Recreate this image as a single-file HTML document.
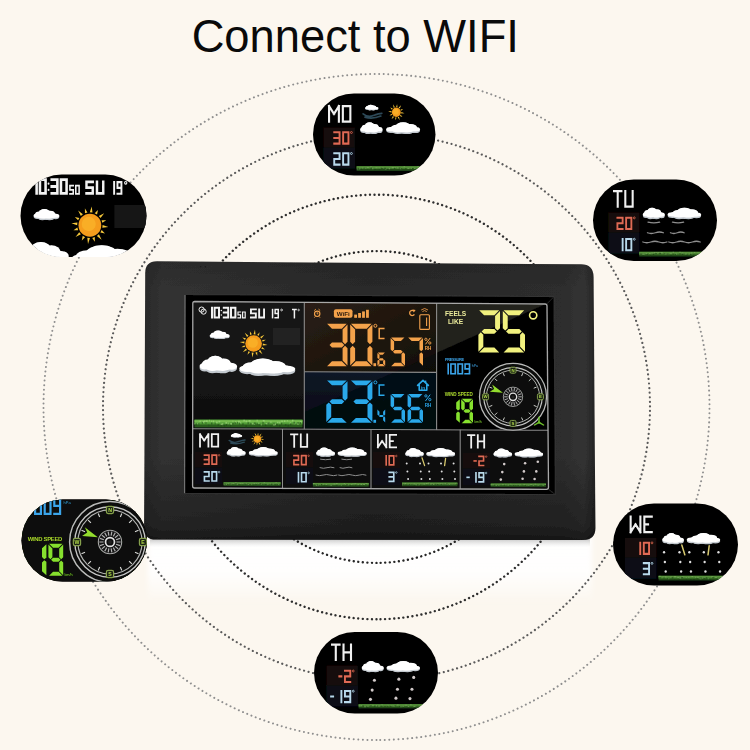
<!DOCTYPE html>
<html><head><meta charset="utf-8"><title>Connect to WIFI</title>
<style>html,body{margin:0;padding:0;background:#fcf7ef;}body{width:750px;height:750px;overflow:hidden;font-family:"Liberation Sans",sans-serif;}svg{display:block}</style>
</head><body>
<svg width="750" height="750" viewBox="0 0 750 750">
<defs>
<linearGradient id="bodyg" x1="0" y1="0" x2="1" y2="0">
 <stop offset="0" stop-color="#2a2a2a"/><stop offset="0.04" stop-color="#313131"/>
 <stop offset="0.5" stop-color="#292929"/><stop offset="0.93" stop-color="#2d2d2d"/>
 <stop offset="0.975" stop-color="#333333"/><stop offset="1" stop-color="#242424"/>
</linearGradient>
<linearGradient id="bodyv" x1="0" y1="0" x2="0" y2="1">
 <stop offset="0" stop-color="#000" stop-opacity="0.10"/><stop offset="0.1" stop-color="#000" stop-opacity="0"/>
 <stop offset="0.7" stop-color="#000" stop-opacity="0"/><stop offset="0.95" stop-color="#000" stop-opacity="0.28"/><stop offset="1" stop-color="#000" stop-opacity="0.5"/>
</linearGradient>
<linearGradient id="brown" x1="0" y1="0" x2="1" y2="1">
 <stop offset="0" stop-color="#2a1f15"/><stop offset="1" stop-color="#130e09"/>
</linearGradient>
<linearGradient id="maing" x1="0" y1="0" x2="0" y2="1">
 <stop offset="0" stop-color="#131313"/><stop offset="0.5" stop-color="#171717"/><stop offset="1" stop-color="#0c0c0c"/>
</linearGradient>
<linearGradient id="navy" x1="0" y1="0" x2="0" y2="1">
 <stop offset="0" stop-color="#0c1626"/><stop offset="1" stop-color="#050a12"/>
</linearGradient>
<linearGradient id="refl" x1="0" y1="0" x2="0" y2="1">
 <stop offset="0" stop-color="#fff" stop-opacity="1"/><stop offset="0.55" stop-color="#fff" stop-opacity="0.9"/><stop offset="1" stop-color="#fff" stop-opacity="0"/>
</linearGradient>
<linearGradient id="shad" x1="0" y1="0" x2="0" y2="1">
 <stop offset="0" stop-color="#8c8c8c" stop-opacity="0.55"/><stop offset="1" stop-color="#bbb" stop-opacity="0"/>
</linearGradient>
<filter id="blur2" x="-5%" y="-20%" width="110%" height="140%"><feGaussianBlur stdDeviation="2.5"/></filter>
<filter id="blur6" x="-20%" y="-50%" width="140%" height="200%"><feGaussianBlur stdDeviation="6"/></filter>
<filter id="blur3" x="-20%" y="-50%" width="140%" height="200%"><feGaussianBlur stdDeviation="3"/></filter>
<filter id="soft" x="0" y="0" width="750" height="750" filterUnits="userSpaceOnUse"><feGaussianBlur stdDeviation="0.45"/></filter>
<clipPath id="clipMain"><rect x="194" y="303" width="110" height="125.5"/></clipPath>
<clipPath id="clipRight"><rect x="438" y="304" width="108" height="125"/></clipPath>
<clipPath id="b1"><rect x="20.5" y="174.5" width="126" height="82.5" rx="41.25"/></clipPath>
<clipPath id="b2"><rect x="313" y="93.5" width="122.5" height="82" rx="41"/></clipPath>
<clipPath id="b3"><rect x="593" y="179.5" width="124" height="81.5" rx="40.75"/></clipPath>
<clipPath id="b4"><rect x="613" y="503.5" width="125" height="82" rx="41"/></clipPath>
<clipPath id="b5"><rect x="314" y="632" width="124" height="81.5" rx="40.75"/></clipPath>
<clipPath id="b6"><rect x="21.5" y="499.5" width="125.5" height="82" rx="41"/></clipPath>
</defs>
<rect width="750" height="750" fill="#fcf7ef"/>
<rect x="148" y="536" width="444" height="66" fill="url(#refl)" filter="url(#blur2)"/>
<rect x="150" y="538" width="440" height="9" fill="url(#shad)"/>
<circle cx="376.5" cy="407" r="333" fill="none" stroke="#8f8f8f" stroke-width="2" stroke-linecap="round" stroke-dasharray="0.01 4.5683" transform="rotate(90 376.5 407)"/>
<circle cx="376.5" cy="407" r="273.5" fill="none" stroke="#5a5a5a" stroke-width="2.2" stroke-linecap="round" stroke-dasharray="0.01 4.5725" transform="rotate(90 376.5 407)"/>
<circle cx="376.5" cy="407" r="212.3" fill="none" stroke="#2e2e2e" stroke-width="2.4" stroke-linecap="round" stroke-dasharray="0.01 4.5739" transform="rotate(90 376.5 407)"/>
<circle cx="376.5" cy="407" r="155.9" fill="none" stroke="#262626" stroke-width="2.4" stroke-linecap="round" stroke-dasharray="0.01 4.5673" transform="rotate(90 376.5 407)"/>
<text x="355.3" y="51.5" text-anchor="middle" font-family="'Liberation Sans', sans-serif" font-size="45.3" fill="#0a0a0a" id="title">Connect to WIFI</text>
<g filter="url(#soft)">
<path id="body" d="M157 261.3 L581 264.3 Q593.5 264.4 593.6 277 L595.4 528 Q595.4 540 583 540 L156 539.6 Q144 539.6 144.1 527.5 L145.2 273 Q145.3 261.2 157 261.3Z" fill="url(#bodyg)"/>
<path d="M157 261.3 L581 264.3 Q593.5 264.4 593.6 277 L595.4 528 Q595.4 540 583 540 L156 539.6 Q144 539.6 144.1 527.5 L145.2 273 Q145.3 261.2 157 261.3Z" fill="url(#bodyv)"/>
<path d="M185 294.5 L554 296.6 L555.4 494.6 L184.6 493.5Z" fill="#050505"/>
<path d="M185 294.5 L554 296.6 L555.4 494.6 L184.6 493.5Z" fill="none" stroke="#3a3a3a" stroke-width="0.8"/>
<path d="M185 295 L184.6 493.2" fill="none" stroke="#7a7a7a" stroke-width="1"/>
<path d="M554 296.6 L547.2 303.8 M555.4 494.6 L548.6 489.4" fill="none" stroke="#2e2e2e" stroke-width="0.8"/>
<circle cx="200.6" cy="266.8" r="0.7" fill="#1c1c1c"/><circle cx="205.4" cy="266.8" r="0.7" fill="#1c1c1c"/>
<g id="screen">
<path d="M192.8 301.5 L547 304 L548.5 489.3 L192.6 488Z" fill="#0b0b0b"/>
<rect x="193" y="302" width="111.5" height="127" fill="url(#maing)"/>
<path d="M304.2 302.3 L436.5 303.3 L436.5 372.4 L304.2 371.8Z" fill="url(#brown)"/>
<path d="M304.2 371.8 L436.5 372.4 L436.5 429.8 L304.2 429.2Z" fill="url(#navy)"/>
<path d="M436.5 303.3 L546.6 304 L436.5 352.9Z" fill="#20201b"/>
<path d="M436.5 352.9 L546.6 303.6 L547.8 430.4 L436.5 429.8Z" fill="#050505"/>
<path d="M436.5 352.9 L436.5 372.4 L394 372.2Z" fill="#0a0806" opacity="0.8"/>
<path d="M394 372.2 L436.5 372.4 L436.5 429.8 L304.3 429.2 L304.3 412.2Z" fill="#02050a" opacity="0.55"/>
<g id="mainpanel"><g transform="translate(0 306.8) scale(1 1) translate(0 -306.8)"><circle cx="201.6" cy="309.6" r="2.6" fill="none" stroke="#f2f2f2" stroke-width="1"/><circle cx="203.6" cy="311.6" r="2.6" fill="none" stroke="#f2f2f2" stroke-width="1"/><path d="M212 307.8L212 317.4" stroke="#f2f2f2" stroke-width="2" stroke-linecap="square"/><path d="M214.6 307.8L219 307.8M219 307.8L219 312.6M219 312.6L219 317.4M214.6 317.4L219 317.4M214.6 312.6L214.6 317.4M214.6 307.8L214.6 312.6" stroke="#f2f2f2" stroke-width="2" fill="none" stroke-linecap="square" /><circle cx="221.3" cy="310.6" r="0.75" fill="#f2f2f2"/><circle cx="221.3" cy="315" r="0.75" fill="#f2f2f2"/><path d="M223.8 307.8L228.2 307.8M228.2 307.8L228.2 312.6M223.8 312.6L228.2 312.6M228.2 312.6L228.2 317.4M223.8 317.4L228.2 317.4" stroke="#f2f2f2" stroke-width="2" fill="none" stroke-linecap="square" /><path d="M231 307.8L235.4 307.8M235.4 307.8L235.4 312.6M235.4 312.6L235.4 317.4M231 317.4L235.4 317.4M231 312.6L231 317.4M231 307.8L231 312.6" stroke="#f2f2f2" stroke-width="2" fill="none" stroke-linecap="square" /><path d="M238 312L240.6 312M238 312L238 314.9M238 314.9L240.6 314.9M240.6 314.9L240.6 317.8M238 317.8L240.6 317.8" stroke="#f2f2f2" stroke-width="1.2" fill="none" stroke-linecap="square" /><path d="M242.6 312L245.2 312M245.2 312L245.2 314.9M245.2 314.9L245.2 317.8M242.6 317.8L245.2 317.8M242.6 314.9L242.6 317.8M242.6 312L242.6 314.9" stroke="#f2f2f2" stroke-width="1.2" fill="none" stroke-linecap="square" /><path d="M250.95 309.35L255.85 309.35M250.95 309.35L250.95 313.4M250.95 313.4L255.85 313.4M255.85 313.4L255.85 317.45M250.95 317.45L255.85 317.45" stroke="#f2f2f2" stroke-width="1.9" fill="none" stroke-linecap="square" /><path d="M259.15 309.35L259.15 313.4M259.15 313.4L259.15 317.45M259.15 317.45L264.05 317.45M264.05 313.4L264.05 317.45M264.05 309.35L264.05 313.4" stroke="#f2f2f2" stroke-width="1.9" fill="none" stroke-linecap="square" /><path d="M272.55 309.55L272.55 317.65" stroke="#f2f2f2" stroke-width="1.5" stroke-linecap="square"/><path d="M275.15 309.55L278.25 309.55M278.25 309.55L278.25 313.6M275.15 309.55L275.15 313.6M275.15 313.6L278.25 313.6M278.25 313.6L278.25 317.65M275.15 317.65L278.25 317.65" stroke="#f2f2f2" stroke-width="1.5" fill="none" stroke-linecap="square" /><circle cx="281.6" cy="310" r="0.9" fill="none" stroke="#f2f2f2" stroke-width="0.8"/><path d="M292.75 309.55L296.05 309.55M294.4 309.55L294.4 313.6M294.4 313.6L294.4 317.65" stroke="#f2f2f2" stroke-width="1.5" fill="none" stroke-linecap="square" /><circle cx="298.6" cy="310" r="0.8" fill="none" stroke="#f2f2f2" stroke-width="0.7"/></g><rect x="273" y="327.6" width="27" height="17.6" fill="#222222"/><g><ellipse cx="219.7" cy="336.16" rx="8.8" ry="2.72" fill="#c3c9cf"/><ellipse cx="218.1" cy="333.95" rx="4.4" ry="3.4" fill="#c3c9cf"/><ellipse cx="222.5" cy="334.8" rx="3.8" ry="2.81" fill="#c3c9cf"/><ellipse cx="214.1" cy="335.23" rx="3.2" ry="2.55" fill="#c3c9cf"/><ellipse cx="212.5" cy="336.33" rx="2.8" ry="1.87" fill="#c3c9cf"/><ellipse cx="226.9" cy="336.5" rx="2.8" ry="1.87" fill="#c3c9cf"/><ellipse cx="216.5" cy="337.35" rx="3.2" ry="1.7" fill="#c3c9cf"/><ellipse cx="222.1" cy="337.52" rx="3.6" ry="1.53" fill="#c3c9cf"/><ellipse cx="219.7" cy="335.37" rx="8.8" ry="2.34" fill="#ffffff"/><ellipse cx="218.1" cy="333.47" rx="4.4" ry="2.92" fill="#ffffff"/><ellipse cx="222.5" cy="334.2" rx="3.8" ry="2.41" fill="#ffffff"/><ellipse cx="214.1" cy="334.57" rx="3.2" ry="2.19" fill="#ffffff"/><ellipse cx="212.5" cy="335.52" rx="2.8" ry="1.61" fill="#ffffff"/><ellipse cx="226.9" cy="335.67" rx="2.8" ry="1.61" fill="#ffffff"/><ellipse cx="216.5" cy="336.4" rx="3.2" ry="1.46" fill="#ffffff"/><ellipse cx="222.1" cy="336.54" rx="3.6" ry="1.32" fill="#ffffff"/></g><g><path d="M262.9 343.45L267.53 344.9L262.7 345.39ZM262.21 347.01L264.93 349.58L261.28 348.73ZM260.21 350.04L262.46 354.34L258.7 351.27ZM257.2 352.07L257.31 355.81L255.33 352.63ZM253.65 352.8L252.2 357.43L251.71 352.6ZM250.09 352.11L247.52 354.83L248.37 351.18ZM247.06 350.11L242.76 352.36L245.83 348.6ZM245.03 347.1L241.29 347.21L244.47 345.23ZM244.3 343.55L239.67 342.1L244.5 341.61ZM244.99 339.99L242.27 337.42L245.92 338.27ZM246.99 336.96L244.74 332.66L248.5 335.73ZM250 334.93L249.89 331.19L251.87 334.37ZM253.55 334.2L255 329.57L255.49 334.4ZM257.11 334.89L259.68 332.17L258.83 335.82ZM260.14 336.89L264.44 334.64L261.37 338.4ZM262.17 339.9L265.91 339.79L262.73 341.77Z" fill="#f3c63a"/><circle cx="253.6" cy="343.5" r="8.3" fill="#f59c1c"/><circle cx="252.77" cy="342.67" r="5.15" fill="#f9b42c" opacity="0.75"/></g><g><ellipse cx="218.3" cy="367.4" rx="16.5" ry="5.6" fill="#c3c9cf"/><ellipse cx="215.3" cy="362.85" rx="8.25" ry="7" fill="#c3c9cf"/><ellipse cx="223.55" cy="364.6" rx="7.12" ry="5.78" fill="#c3c9cf"/><ellipse cx="207.8" cy="365.48" rx="6" ry="5.25" fill="#c3c9cf"/><ellipse cx="204.8" cy="367.75" rx="5.25" ry="3.85" fill="#c3c9cf"/><ellipse cx="231.8" cy="368.1" rx="5.25" ry="3.85" fill="#c3c9cf"/><ellipse cx="212.3" cy="369.85" rx="6" ry="3.5" fill="#c3c9cf"/><ellipse cx="222.8" cy="370.2" rx="6.75" ry="3.15" fill="#c3c9cf"/><ellipse cx="218.3" cy="365.78" rx="16.5" ry="4.82" fill="#ffffff"/><ellipse cx="215.3" cy="361.87" rx="8.25" ry="6.02" fill="#ffffff"/><ellipse cx="223.55" cy="363.38" rx="7.12" ry="4.97" fill="#ffffff"/><ellipse cx="207.8" cy="364.13" rx="6" ry="4.51" fill="#ffffff"/><ellipse cx="204.8" cy="366.08" rx="5.25" ry="3.31" fill="#ffffff"/><ellipse cx="231.8" cy="366.39" rx="5.25" ry="3.31" fill="#ffffff"/><ellipse cx="212.3" cy="367.89" rx="6" ry="3.01" fill="#ffffff"/><ellipse cx="222.8" cy="368.19" rx="6.75" ry="2.71" fill="#ffffff"/></g><g><ellipse cx="267.3" cy="370" rx="24.64" ry="5.6" fill="#c3c9cf"/><ellipse cx="262.82" cy="365.45" rx="12.32" ry="7" fill="#c3c9cf"/><ellipse cx="275.14" cy="367.2" rx="10.64" ry="5.78" fill="#c3c9cf"/><ellipse cx="251.62" cy="368.07" rx="8.96" ry="5.25" fill="#c3c9cf"/><ellipse cx="247.14" cy="370.35" rx="7.84" ry="3.85" fill="#c3c9cf"/><ellipse cx="287.46" cy="370.7" rx="7.84" ry="3.85" fill="#c3c9cf"/><ellipse cx="258.34" cy="372.45" rx="8.96" ry="3.5" fill="#c3c9cf"/><ellipse cx="274.02" cy="372.8" rx="10.08" ry="3.15" fill="#c3c9cf"/><ellipse cx="267.3" cy="368.38" rx="24.64" ry="4.82" fill="#ffffff"/><ellipse cx="262.82" cy="364.47" rx="12.32" ry="6.02" fill="#ffffff"/><ellipse cx="275.14" cy="365.97" rx="10.64" ry="4.97" fill="#ffffff"/><ellipse cx="251.62" cy="366.73" rx="8.96" ry="4.51" fill="#ffffff"/><ellipse cx="247.14" cy="368.68" rx="7.84" ry="3.31" fill="#ffffff"/><ellipse cx="287.46" cy="368.99" rx="7.84" ry="3.31" fill="#ffffff"/><ellipse cx="258.34" cy="370.49" rx="8.96" ry="3.01" fill="#ffffff"/><ellipse cx="274.02" cy="370.79" rx="10.08" ry="2.71" fill="#ffffff"/></g><g opacity="1"><rect x="194.5" y="419.6" width="108" height="7.8" fill="#2b5c1e"/><rect x="194.5" y="419.6" width="108" height="4.84" fill="#4f9a36"/><rect x="194.5" y="420.22" width="108" height="2.18" fill="#74bb4e"/><path d="M194.5 422.79h1.08v1.72h-1.08zM197.38 422.65h1.24v1.72h-1.24zM199.56 420.39h1.05v1.72h-1.05zM202.27 421.05h1.76v1.72h-1.76zM203.95 420.38h1.35v1.72h-1.35zM205.77 420.28h1.93v1.72h-1.93zM209.12 419.83h0.82v1.72h-0.82zM210.97 420.48h0.82v1.72h-0.82zM212.65 420.49h1.52v1.72h-1.52zM215.84 421.45h1.94v1.72h-1.94zM218.53 420.85h1.66v1.72h-1.66zM220.66 423.58h1.91v1.72h-1.91zM222.28 422.97h0.99v1.72h-0.99zM225.35 422.09h1.79v1.72h-1.79zM227.77 422.54h0.97v1.72h-0.97zM230.19 423.11h1.87v1.72h-1.87zM232.52 420.55h0.81v1.72h-0.81zM234.95 421.28h1.53v1.72h-1.53zM237.99 420.66h1.93v1.72h-1.93zM239.97 421.73h1.34v1.72h-1.34zM243.29 419.83h1.64v1.72h-1.64zM245.51 420.42h1.7v1.72h-1.7zM248.58 419.95h1.96v1.72h-1.96zM251.38 422.67h1.83v1.72h-1.83zM253.78 423.25h1.27v1.72h-1.27zM256.61 419.76h1.11v1.72h-1.11zM258.36 422.22h0.99v1.72h-0.99zM260.86 423.81h0.89v1.72h-0.89zM262.79 419.93h1.83v1.72h-1.83zM265.65 422.9h1.63v1.72h-1.63zM267.69 422.04h1.57v1.72h-1.57zM270.38 421.32h1.13v1.72h-1.13zM273.01 423.76h1.98v1.72h-1.98zM274.85 423.57h1.17v1.72h-1.17zM276.88 421.63h1.73v1.72h-1.73zM279.07 421.67h1.41v1.72h-1.41zM281.37 420.43h1.43v1.72h-1.43zM284.02 420.34h1.35v1.72h-1.35zM286.9 419.9h0.88v1.72h-0.88zM289.66 422.2h1.51v1.72h-1.51zM291.97 419.86h1.55v1.72h-1.55zM293.63 422.49h1.72v1.72h-1.72zM297.01 422.93h1.93v1.72h-1.93zM299.93 421.09h1.96v1.72h-1.96z" fill="#a9dc86" opacity="0.55"/><path d="M195.2 423.47h1.55v1.95h-1.55zM198.23 422.89h1.09v1.95h-1.09zM201.75 421.74h1.26v1.95h-1.26zM205.54 421.97h0.89v1.95h-0.89zM208.36 424.56h0.85v1.95h-0.85zM211.02 422.46h1.46v1.95h-1.46zM214.65 422.64h0.98v1.95h-0.98zM217.65 424.1h1.2v1.95h-1.2zM220.52 424.9h1.68v1.95h-1.68zM223.63 424.72h1.66v1.95h-1.66zM226.02 424.05h1.03v1.95h-1.03zM230.01 424.82h0.91v1.95h-0.91zM232.25 422.63h1.54v1.95h-1.54zM234.58 422.04h1.24v1.95h-1.24zM236.9 421.91h0.94v1.95h-0.94zM239.15 422.75h1.01v1.95h-1.01zM242.25 423.23h1.42v1.95h-1.42zM245.26 425.26h1.77v1.95h-1.77zM247.54 422.32h1.31v1.95h-1.31zM250.38 423.11h1.22v1.95h-1.22zM254 422.54h1.76v1.95h-1.76zM256.59 423.13h1.18v1.95h-1.18zM258.73 424.09h0.91v1.95h-0.91zM262.37 421.7h1.27v1.95h-1.27zM265.08 424.24h1.43v1.95h-1.43zM267.69 422.36h1.69v1.95h-1.69zM270.37 425.13h1.09v1.95h-1.09zM273.45 422.79h1.07v1.95h-1.07zM276.07 423.65h1.67v1.95h-1.67zM278.93 424.76h1.7v1.95h-1.7zM281.03 422.76h1.21v1.95h-1.21zM284.87 424.03h1.62v1.95h-1.62zM287.3 424.8h1.79v1.95h-1.79zM289.97 423.36h1.46v1.95h-1.46zM293.44 421.77h1.57v1.95h-1.57zM297.4 422.24h1.4v1.95h-1.4zM299.72 422.01h1.32v1.95h-1.32z" fill="#1f4a16" opacity="0.6"/></g></g>
<g id="midtop"><path d="M327.08 323.8 L346.72 323.8 L341.82 328.7 L331.98 328.7ZM347.5 324.58 L342.6 329.48 L342.6 341.77 L345.05 344.22 L347.5 341.77ZM329.53 345 L331.98 342.55 L341.82 342.55 L344.27 345 L341.82 347.45 L331.98 347.45ZM347.5 365.42 L342.6 360.52 L342.6 348.23 L345.05 345.78 L347.5 348.23ZM327.08 366.2 L346.72 366.2 L341.82 361.3 L331.98 361.3Z" fill="#f4a24c" /><path d="M350.98 323.8 L371.62 323.8 L366.72 328.7 L355.88 328.7ZM372.4 324.58 L367.5 329.48 L367.5 341.77 L369.95 344.22 L372.4 341.77ZM372.4 365.42 L367.5 360.52 L367.5 348.23 L369.95 345.78 L372.4 348.23ZM350.98 366.2 L371.62 366.2 L366.72 361.3 L355.88 361.3ZM350.2 365.42 L355.1 360.52 L355.1 348.23 L352.65 345.78 L350.2 348.23ZM350.2 324.58 L355.1 329.48 L355.1 341.77 L352.65 344.22 L350.2 341.77Z" fill="#f4a24c" /><rect x="373.4" y="363.2" width="2.7" height="3.0" fill="#f4a24c"/><path d="M377.74 352.6 L384.86 352.6 L382.76 354.7 L379.84 354.7ZM377.4 352.94 L379.5 355.04 L379.5 358.01 L378.45 359.06 L377.4 358.01ZM378.79 359.4 L379.84 358.35 L382.76 358.35 L383.81 359.4 L382.76 360.45 L379.84 360.45ZM377.4 365.86 L379.5 363.76 L379.5 360.79 L378.45 359.74 L377.4 360.79ZM377.74 366.2 L384.86 366.2 L382.76 364.1 L379.84 364.1ZM385.2 365.86 L383.1 363.76 L383.1 360.79 L384.15 359.74 L385.2 360.79Z" fill="#f4a24c" /><circle cx="375.4" cy="325.8" r="1.5" fill="none" stroke="#f4a24c" stroke-width="1"/><path d="M379.2 328.4L383.8 328.4M379.2 328.4L379.2 333.5M379.2 333.5L379.2 338.6M379.2 338.6L383.8 338.6" stroke="#f4a24c" stroke-width="1.5" fill="none" stroke-linecap="square" /><path d="M391.16 337.4 L404.44 337.4 L400.94 340.9 L394.66 340.9ZM390.6 337.96 L394.1 341.46 L394.1 349.49 L392.35 351.24 L390.6 349.49ZM392.91 351.8 L394.66 350.05 L400.94 350.05 L402.69 351.8 L400.94 353.55 L394.66 353.55ZM405 365.64 L401.5 362.14 L401.5 354.11 L403.25 352.36 L405 354.11ZM391.16 366.2 L404.44 366.2 L400.94 362.7 L394.66 362.7Z" fill="#f4a24c" /><path d="M408.16 337.4 L422.44 337.4 L418.94 340.9 L411.66 340.9ZM423 337.96 L419.5 341.46 L419.5 349.49 L421.25 351.24 L423 349.49ZM423 365.64 L419.5 362.14 L419.5 354.11 L421.25 352.36 L423 354.11Z" fill="#f4a24c" /><circle cx="425.9" cy="339.3" r="1.15" fill="none" stroke="#f4a24c" stroke-width="0.9"/><circle cx="429.8" cy="343" r="1.15" fill="none" stroke="#f4a24c" stroke-width="0.9"/><line x1="430.2" y1="338" x2="425.5" y2="344.3" stroke="#f4a24c" stroke-width="1"/><text x="424.8" y="350.2" font-family="'Liberation Sans',sans-serif" font-weight="bold" font-size="4.5" fill="#f4a24c" textLength="6.6" lengthAdjust="spacingAndGlyphs">RH</text></g>
<g id="midbot"><path d="M327.08 380.4 L346.72 380.4 L341.82 385.3 L331.98 385.3ZM347.5 381.18 L342.6 386.08 L342.6 398.37 L345.05 400.82 L347.5 398.37ZM329.53 401.6 L331.98 399.15 L341.82 399.15 L344.27 401.6 L341.82 404.05 L331.98 404.05ZM326.3 422.02 L331.2 417.12 L331.2 404.83 L328.75 402.38 L326.3 404.83ZM327.08 422.8 L346.72 422.8 L341.82 417.9 L331.98 417.9Z" fill="#29a9ea" /><path d="M350.98 380.4 L371.62 380.4 L366.72 385.3 L355.88 385.3ZM372.4 381.18 L367.5 386.08 L367.5 398.37 L369.95 400.82 L372.4 398.37ZM353.43 401.6 L355.88 399.15 L366.72 399.15 L369.17 401.6 L366.72 404.05 L355.88 404.05ZM372.4 422.02 L367.5 417.12 L367.5 404.83 L369.95 402.38 L372.4 404.83ZM350.98 422.8 L371.62 422.8 L366.72 417.9 L355.88 417.9Z" fill="#29a9ea" /><rect x="373.4" y="419.8" width="2.7" height="3.0" fill="#29a9ea"/><path d="M377.4 409.54 L379.5 411.64 L379.5 414.61 L378.45 415.66 L377.4 414.61ZM378.79 416 L379.84 414.95 L382.76 414.95 L383.81 416 L382.76 417.05 L379.84 417.05ZM385.2 409.54 L383.1 411.64 L383.1 414.61 L384.15 415.66 L385.2 414.61ZM385.2 422.46 L383.1 420.36 L383.1 417.39 L384.15 416.34 L385.2 417.39Z" fill="#29a9ea" /><circle cx="375.4" cy="382.4" r="1.5" fill="none" stroke="#29a9ea" stroke-width="1"/><path d="M379.2 385L383.8 385M379.2 385L379.2 390.1M379.2 390.1L379.2 395.2M379.2 395.2L383.8 395.2" stroke="#29a9ea" stroke-width="1.5" fill="none" stroke-linecap="square" /><path d="M391.16 394 L404.44 394 L400.94 397.5 L394.66 397.5ZM390.6 394.56 L394.1 398.06 L394.1 406.09 L392.35 407.84 L390.6 406.09ZM392.91 408.4 L394.66 406.65 L400.94 406.65 L402.69 408.4 L400.94 410.15 L394.66 410.15ZM405 422.24 L401.5 418.74 L401.5 410.71 L403.25 408.96 L405 410.71ZM391.16 422.8 L404.44 422.8 L400.94 419.3 L394.66 419.3Z" fill="#29a9ea" /><path d="M408.16 394 L422.44 394 L418.94 397.5 L411.66 397.5ZM407.6 394.56 L411.1 398.06 L411.1 406.09 L409.35 407.84 L407.6 406.09ZM409.91 408.4 L411.66 406.65 L418.94 406.65 L420.69 408.4 L418.94 410.15 L411.66 410.15ZM407.6 422.24 L411.1 418.74 L411.1 410.71 L409.35 408.96 L407.6 410.71ZM408.16 422.8 L422.44 422.8 L418.94 419.3 L411.66 419.3ZM423 422.24 L419.5 418.74 L419.5 410.71 L421.25 408.96 L423 410.71Z" fill="#29a9ea" /><circle cx="425.9" cy="395.9" r="1.15" fill="none" stroke="#29a9ea" stroke-width="0.9"/><circle cx="429.8" cy="399.6" r="1.15" fill="none" stroke="#29a9ea" stroke-width="0.9"/><line x1="430.2" y1="394.6" x2="425.5" y2="400.9" stroke="#29a9ea" stroke-width="1"/><text x="424.8" y="406.8" font-family="'Liberation Sans',sans-serif" font-weight="bold" font-size="4.5" fill="#29a9ea" textLength="6.6" lengthAdjust="spacingAndGlyphs">RH</text></g>
<g id="midicons"><circle cx="317.2" cy="313.8" r="2.7" fill="none" stroke="#f4a24c" stroke-width="1.1"/><path d="M314.2 310.6 l1.6 -1.4 M320.2 310.6 l-1.6 -1.4 M317.2 312.2 v1.7 h1.2 M315.2 316.6 l-0.8 1 M319.2 316.6 l0.8 1" stroke="#f4a24c" stroke-width="0.9" fill="none"/><rect x="333.9" y="309.3" width="18.6" height="8.5" rx="2" fill="#f4a24c"/><text x="343.2" y="316.0" text-anchor="middle" font-family="'Liberation Sans',sans-serif" font-weight="bold" font-size="6.2" fill="#2a1a0c">WiFi</text><rect x="354.2" y="314.6" width="2.8" height="3.2" fill="#f4a24c"/><rect x="358.15" y="313" width="2.8" height="4.8" fill="#f4a24c"/><rect x="362.1" y="311.4" width="2.8" height="6.4" fill="#f4a24c"/><rect x="366.05" y="309.8" width="2.8" height="8" fill="#f4a24c"/><path d="M414.2 311.2 A2.6 2.6 0 1 0 414.4 314.4" fill="none" stroke="#f4a24c" stroke-width="1.2"/><path d="M412.6 309.4 l3 0.6 l-1.8 2.4z" fill="#f4a24c"/><rect x="419.8" y="314.8" width="9.6" height="14.6" rx="1" fill="none" stroke="#f4a24c" stroke-width="1.1"/><line x1="426.6" y1="317.5" x2="426.6" y2="326" stroke="#f4a24c" stroke-width="1.1"/><path d="M422.4 311.6 q2.2 -2 4.4 0 M421.2 310 q3.4 -3 6.8 0" fill="none" stroke="#f4a24c" stroke-width="0.8"/><path d="M417.6 385.4 l5.4 -5 l5.4 5 M419.2 384.6 v5.6 h7.6 v-5.6" fill="none" stroke="#29a9ea" stroke-width="1.6" stroke-linejoin="round" stroke-linecap="round"/><path d="M425.6 380.6 v2.6" stroke="#29a9ea" stroke-width="1.4"/><text x="423" y="389.6" text-anchor="middle" font-family="'Liberation Sans',sans-serif" font-weight="bold" font-size="4.6" fill="#29a9ea">in</text></g>
<g id="rightpanel"><text x="455.6" y="316.2" text-anchor="middle" font-family="'Liberation Sans',sans-serif" font-weight="bold" font-size="6.6" fill="#ecec9c">FEELS</text><text x="455.6" y="324" text-anchor="middle" font-family="'Liberation Sans',sans-serif" font-weight="bold" font-size="6.6" fill="#ecec9c">LIKE</text><path d="M479.18 310.3 L499.22 310.3 L494.32 315.2 L484.08 315.2ZM500 311.08 L495.1 315.98 L495.1 328.17 L497.55 330.62 L500 328.17ZM481.63 331.4 L484.08 328.95 L494.32 328.95 L496.77 331.4 L494.32 333.85 L484.08 333.85ZM478.4 351.72 L483.3 346.82 L483.3 334.63 L480.85 332.18 L478.4 334.63ZM479.18 352.5 L499.22 352.5 L494.32 347.6 L484.08 347.6Z" fill="#f1f17e" /><path d="M503.58 310.3 L524.22 310.3 L519.32 315.2 L508.48 315.2ZM502.8 311.08 L507.7 315.98 L507.7 328.17 L505.25 330.62 L502.8 328.17ZM506.03 331.4 L508.48 328.95 L519.32 328.95 L521.77 331.4 L519.32 333.85 L508.48 333.85ZM525 351.72 L520.1 346.82 L520.1 334.63 L522.55 332.18 L525 334.63ZM503.58 352.5 L524.22 352.5 L519.32 347.6 L508.48 347.6Z" fill="#f1f17e" /><circle cx="533.2" cy="315.3" r="3.6" fill="none" stroke="#f1f17e" stroke-width="1.6"/><text x="445" y="360.6" font-family="'Liberation Sans',sans-serif" font-weight="bold" font-size="3.9" fill="#3ba4ea" textLength="19">PRESSURE</text><path d="M448.2 364L448.2 373.8" stroke="#3ba4ea" stroke-width="1.6" stroke-linecap="square"/><path d="M450.9 364L455.3 364M455.3 364L455.3 368.9M455.3 368.9L455.3 373.8M450.9 373.8L455.3 373.8M450.9 368.9L450.9 373.8M450.9 364L450.9 368.9" stroke="#3ba4ea" stroke-width="1.6" fill="none" stroke-linecap="square" /><path d="M458 364L462.4 364M462.4 364L462.4 368.9M462.4 368.9L462.4 373.8M458 373.8L462.4 373.8M458 368.9L458 373.8M458 364L458 368.9" stroke="#3ba4ea" stroke-width="1.6" fill="none" stroke-linecap="square" /><path d="M465.1 364L469.5 364M469.5 364L469.5 368.9M465.1 364L465.1 368.9M465.1 368.9L469.5 368.9M469.5 368.9L469.5 373.8M465.1 373.8L469.5 373.8" stroke="#3ba4ea" stroke-width="1.6" fill="none" stroke-linecap="square" /><text x="471.8" y="366.6" font-family="'Liberation Sans',sans-serif" font-size="3.4" fill="#3ba4ea">hPa</text><text x="444.8" y="396.2" font-family="'Liberation Sans',sans-serif" font-weight="bold" font-size="4.6" fill="#a9d62c" textLength="28">WIND SPEED</text><path d="M459.8 399.23 L459.8 409.31 L458 410.57 L456.2 408.77 L456.2 402.47ZM459.8 422.77 L459.8 412.69 L458 411.43 L456.2 413.23 L456.2 419.53Z" fill="#86e02e"/><path d="M461.76 398.8 L472.44 398.8 L468.94 402.3 L465.26 402.3ZM473 399.36 L469.5 402.86 L469.5 408.69 L471.25 410.44 L473 408.69ZM461.2 399.36 L464.7 402.86 L464.7 408.69 L462.95 410.44 L461.2 408.69ZM463.51 411 L465.26 409.25 L468.94 409.25 L470.69 411 L468.94 412.75 L465.26 412.75ZM473 422.64 L469.5 419.14 L469.5 413.31 L471.25 411.56 L473 413.31ZM461.76 423.2 L472.44 423.2 L468.94 419.7 L465.26 419.7Z" fill="#86e02e" /><text x="474.4" y="423.4" font-family="'Liberation Sans',sans-serif" font-size="3.4" fill="#86e02e">km/h</text><g><circle cx="513" cy="396.8" r="34" fill="#0a0c08"/><circle cx="513" cy="396.8" r="33.5" fill="none" stroke="#b9b9b9" stroke-width="1.25"/><circle cx="513" cy="396.8" r="29.2" fill="none" stroke="#c4c4c4" stroke-width="1.15"/><circle cx="513" cy="396.8" r="26.6" fill="none" stroke="#b0b0b0" stroke-width="1"/><line x1="536.65" y1="406.6" x2="533.69" y2="405.37" stroke="#d8d8d8" stroke-width="0.95"/><line x1="531.1" y1="414.9" x2="528.84" y2="412.64" stroke="#d8d8d8" stroke-width="0.95"/><line x1="522.8" y1="420.45" x2="521.57" y2="417.49" stroke="#d8d8d8" stroke-width="0.95"/><line x1="503.2" y1="420.45" x2="504.43" y2="417.49" stroke="#d8d8d8" stroke-width="0.95"/><line x1="494.9" y1="414.9" x2="497.16" y2="412.64" stroke="#d8d8d8" stroke-width="0.95"/><line x1="489.35" y1="406.6" x2="492.31" y2="405.37" stroke="#d8d8d8" stroke-width="0.95"/><line x1="489.35" y1="387" x2="492.31" y2="388.23" stroke="#d8d8d8" stroke-width="0.95"/><line x1="494.9" y1="378.7" x2="497.16" y2="380.96" stroke="#d8d8d8" stroke-width="0.95"/><line x1="503.2" y1="373.15" x2="504.43" y2="376.11" stroke="#d8d8d8" stroke-width="0.95"/><line x1="522.8" y1="373.15" x2="521.57" y2="376.11" stroke="#d8d8d8" stroke-width="0.95"/><line x1="531.1" y1="378.7" x2="528.84" y2="380.96" stroke="#d8d8d8" stroke-width="0.95"/><line x1="536.65" y1="387" x2="533.69" y2="388.23" stroke="#d8d8d8" stroke-width="0.95"/><rect x="510" y="367.2" width="6" height="6" rx="1.4" fill="#1b2414" stroke="#86a04e" stroke-width="1"/><text x="513" y="371.75" text-anchor="middle" font-family="'Liberation Sans',sans-serif" font-weight="bold" font-size="4.3" fill="#b3dc4a">N</text><rect x="537.4" y="393.8" width="6" height="6" rx="1.4" fill="#1b2414" stroke="#86a04e" stroke-width="1"/><text x="540.4" y="398.35" text-anchor="middle" font-family="'Liberation Sans',sans-serif" font-weight="bold" font-size="4.3" fill="#b3dc4a">E</text><rect x="510" y="420.4" width="6" height="6" rx="1.4" fill="#1b2414" stroke="#86a04e" stroke-width="1"/><text x="513" y="424.95" text-anchor="middle" font-family="'Liberation Sans',sans-serif" font-weight="bold" font-size="4.3" fill="#b3dc4a">S</text><rect x="482.6" y="393.8" width="6" height="6" rx="1.4" fill="#1b2414" stroke="#86a04e" stroke-width="1"/><text x="485.6" y="398.35" text-anchor="middle" font-family="'Liberation Sans',sans-serif" font-weight="bold" font-size="4.3" fill="#b3dc4a">W</text><circle cx="513" cy="396.8" r="9.7" fill="#161616" stroke="#a9a9a9" stroke-width="0.9"/><line x1="518.4" y1="396.8" x2="521.8" y2="396.8" stroke="#b4b4b4" stroke-width="0.95"/><line x1="518.07" y1="398.65" x2="521.27" y2="399.81" stroke="#b4b4b4" stroke-width="0.95"/><line x1="517.14" y1="400.27" x2="519.74" y2="402.46" stroke="#b4b4b4" stroke-width="0.95"/><line x1="515.7" y1="401.48" x2="517.4" y2="404.42" stroke="#b4b4b4" stroke-width="0.95"/><line x1="513.94" y1="402.12" x2="514.53" y2="405.47" stroke="#b4b4b4" stroke-width="0.95"/><line x1="512.06" y1="402.12" x2="511.47" y2="405.47" stroke="#b4b4b4" stroke-width="0.95"/><line x1="510.3" y1="401.48" x2="508.6" y2="404.42" stroke="#b4b4b4" stroke-width="0.95"/><line x1="508.86" y1="400.27" x2="506.26" y2="402.46" stroke="#b4b4b4" stroke-width="0.95"/><line x1="507.93" y1="398.65" x2="504.73" y2="399.81" stroke="#b4b4b4" stroke-width="0.95"/><line x1="507.6" y1="396.8" x2="504.2" y2="396.8" stroke="#b4b4b4" stroke-width="0.95"/><line x1="507.93" y1="394.95" x2="504.73" y2="393.79" stroke="#b4b4b4" stroke-width="0.95"/><line x1="508.86" y1="393.33" x2="506.26" y2="391.14" stroke="#b4b4b4" stroke-width="0.95"/><line x1="510.3" y1="392.12" x2="508.6" y2="389.18" stroke="#b4b4b4" stroke-width="0.95"/><line x1="512.06" y1="391.48" x2="511.47" y2="388.13" stroke="#b4b4b4" stroke-width="0.95"/><line x1="513.94" y1="391.48" x2="514.53" y2="388.13" stroke="#b4b4b4" stroke-width="0.95"/><line x1="515.7" y1="392.12" x2="517.4" y2="389.18" stroke="#b4b4b4" stroke-width="0.95"/><line x1="517.14" y1="393.33" x2="519.74" y2="391.14" stroke="#b4b4b4" stroke-width="0.95"/><line x1="518.07" y1="394.95" x2="521.27" y2="393.79" stroke="#b4b4b4" stroke-width="0.95"/><circle cx="513" cy="396.8" r="3.7" fill="#0c0c0c" stroke="#e0e0e0" stroke-width="1.4"/><circle cx="513" cy="396.8" r="1.6" fill="#222"/><path d="M502.9 392.8 L492.1 384.5 L494.1 389 L489.8 391.8Z" fill="#93dc2e"/></g><line x1="539" y1="422.4" x2="539" y2="417.2" stroke="#6fc42a" stroke-width="1.4" stroke-linecap="round"/><line x1="539" y1="422.4" x2="543.5" y2="425" stroke="#6fc42a" stroke-width="1.4" stroke-linecap="round"/><line x1="539" y1="422.4" x2="534.5" y2="425" stroke="#6fc42a" stroke-width="1.4" stroke-linecap="round"/><circle cx="539" cy="422.4" r="1.2" fill="#6fc42a"/></g>
<g id="fcMO"><rect x="195.1" y="451.3" width="27" height="16" fill="#130a08"/><rect x="195.1" y="467.3" width="27" height="17" fill="#080d16"/><path d="M200 434.2L200 440.4M200 440.4L200 446.6M208.4 434.2L208.4 440.4M208.4 440.4L208.4 446.6M200 434.2L204.2 440.4M208.4 434.2L204.2 440.4" stroke="#f0f0f0" stroke-width="1.8" fill="none" stroke-linecap="square" /><path d="M211.8 434.2L218.2 434.2M218.2 434.2L218.2 440.4M218.2 440.4L218.2 446.6M211.8 446.6L218.2 446.6M211.8 440.4L211.8 446.6M211.8 434.2L211.8 440.4" stroke="#f0f0f0" stroke-width="1.8" fill="none" stroke-linecap="square" /><circle cx="219.1" cy="455.3" r="0.8" fill="none" stroke="#e06a54" stroke-width="0.7"/><path d="M212.03 455.12L216.58 455.12M216.58 455.12L216.58 459.65M216.58 459.65L216.58 464.18M212.03 464.18L216.58 464.18M212.03 459.65L212.03 464.18M212.03 455.12L212.03 459.65" stroke="#e06a54" stroke-width="1.65" fill="none" stroke-linecap="square" /><path d="M204.43 455.12L208.98 455.12M208.98 455.12L208.98 459.65M204.43 459.65L208.98 459.65M208.98 459.65L208.98 464.18M204.43 464.18L208.98 464.18" stroke="#e06a54" stroke-width="1.65" fill="none" stroke-linecap="square" /><circle cx="219.1" cy="472.1" r="0.8" fill="none" stroke="#b9d9ec" stroke-width="0.7"/><path d="M212.03 471.93L216.58 471.93M216.58 471.93L216.58 476.45M216.58 476.45L216.58 480.98M212.03 480.98L216.58 480.98M212.03 476.45L212.03 480.98M212.03 471.93L212.03 476.45" stroke="#b9d9ec" stroke-width="1.65" fill="none" stroke-linecap="square" /><path d="M204.43 471.93L208.98 471.93M208.98 471.93L208.98 476.45M204.43 476.45L208.98 476.45M204.43 476.45L204.43 480.98M204.43 480.98L208.98 480.98" stroke="#b9d9ec" stroke-width="1.65" fill="none" stroke-linecap="square" /><g><ellipse cx="236.5" cy="436.04" rx="5.02" ry="1.47" fill="#c3c9cf"/><ellipse cx="235.59" cy="434.84" rx="2.51" ry="1.84" fill="#c3c9cf"/><ellipse cx="238.1" cy="435.3" rx="2.17" ry="1.52" fill="#c3c9cf"/><ellipse cx="233.31" cy="435.53" rx="1.82" ry="1.38" fill="#c3c9cf"/><ellipse cx="232.4" cy="436.13" rx="1.6" ry="1.01" fill="#c3c9cf"/><ellipse cx="240.6" cy="436.22" rx="1.6" ry="1.01" fill="#c3c9cf"/><ellipse cx="234.68" cy="436.68" rx="1.82" ry="0.92" fill="#c3c9cf"/><ellipse cx="237.87" cy="436.77" rx="2.05" ry="0.83" fill="#c3c9cf"/><ellipse cx="236.5" cy="435.61" rx="5.02" ry="1.27" fill="#ffffff"/><ellipse cx="235.59" cy="434.58" rx="2.51" ry="1.58" fill="#ffffff"/><ellipse cx="238.1" cy="434.98" rx="2.17" ry="1.31" fill="#ffffff"/><ellipse cx="233.31" cy="435.18" rx="1.82" ry="1.19" fill="#ffffff"/><ellipse cx="232.4" cy="435.69" rx="1.6" ry="0.87" fill="#ffffff"/><ellipse cx="240.6" cy="435.77" rx="1.6" ry="0.87" fill="#ffffff"/><ellipse cx="234.68" cy="436.16" rx="1.82" ry="0.79" fill="#ffffff"/><ellipse cx="237.87" cy="436.24" rx="2.05" ry="0.71" fill="#ffffff"/></g><path d="M229.1 440.38 Q233.1 443.46 237.9 441.7 T245.1 439.94M230.7 443.02 Q237.1 444.78 244.3 442.14" stroke="#2d4a58" stroke-width="1.4" fill="none" stroke-linecap="round"/><g><path d="M261.75 438.93L264.47 439.8L261.63 440.11ZM261.27 441.08L262.66 442.81L260.57 442.04ZM259.77 442.7L260.38 445.48L258.69 443.19ZM257.67 443.35L256.87 445.43L256.49 443.23ZM255.52 442.87L253.41 444.78L254.56 442.17ZM253.9 441.37L251.7 441.71L253.41 440.29ZM253.25 439.27L250.53 438.4L253.37 438.09ZM253.73 437.12L252.34 435.39L254.43 436.16ZM255.23 435.5L254.62 432.72L256.31 435.01ZM257.33 434.85L258.13 432.77L258.51 434.97ZM259.48 435.33L261.59 433.42L260.44 436.03ZM261.1 436.83L263.3 436.49L261.59 437.91Z" fill="#f3c63a"/><circle cx="257.5" cy="439.1" r="3.8" fill="#f59c1c"/><circle cx="257.12" cy="438.72" r="2.36" fill="#f9b42c" opacity="0.75"/></g><g><ellipse cx="236.2" cy="453.32" rx="8.36" ry="3.04" fill="#c3c9cf"/><ellipse cx="234.68" cy="450.85" rx="4.18" ry="3.8" fill="#c3c9cf"/><ellipse cx="238.86" cy="451.8" rx="3.61" ry="3.14" fill="#c3c9cf"/><ellipse cx="230.88" cy="452.28" rx="3.04" ry="2.85" fill="#c3c9cf"/><ellipse cx="229.36" cy="453.51" rx="2.66" ry="2.09" fill="#c3c9cf"/><ellipse cx="243.04" cy="453.7" rx="2.66" ry="2.09" fill="#c3c9cf"/><ellipse cx="233.16" cy="454.65" rx="3.04" ry="1.9" fill="#c3c9cf"/><ellipse cx="238.48" cy="454.84" rx="3.42" ry="1.71" fill="#c3c9cf"/><ellipse cx="236.2" cy="452.44" rx="8.36" ry="2.61" fill="#ffffff"/><ellipse cx="234.68" cy="450.32" rx="4.18" ry="3.27" fill="#ffffff"/><ellipse cx="238.86" cy="451.13" rx="3.61" ry="2.7" fill="#ffffff"/><ellipse cx="230.88" cy="451.54" rx="3.04" ry="2.45" fill="#ffffff"/><ellipse cx="229.36" cy="452.61" rx="2.66" ry="1.8" fill="#ffffff"/><ellipse cx="243.04" cy="452.77" rx="2.66" ry="1.8" fill="#ffffff"/><ellipse cx="233.16" cy="453.59" rx="3.04" ry="1.63" fill="#ffffff"/><ellipse cx="238.48" cy="453.75" rx="3.42" ry="1.47" fill="#ffffff"/></g><g><ellipse cx="263.3" cy="453.32" rx="12.67" ry="3.04" fill="#c3c9cf"/><ellipse cx="263.3" cy="450.85" rx="6.34" ry="3.8" fill="#c3c9cf"/><ellipse cx="269.64" cy="451.8" rx="5.47" ry="3.14" fill="#c3c9cf"/><ellipse cx="257.54" cy="452.28" rx="4.61" ry="2.85" fill="#c3c9cf"/><ellipse cx="252.93" cy="453.51" rx="4.03" ry="2.09" fill="#c3c9cf"/><ellipse cx="273.67" cy="453.7" rx="4.03" ry="2.09" fill="#c3c9cf"/><ellipse cx="258.69" cy="454.65" rx="4.61" ry="1.9" fill="#c3c9cf"/><ellipse cx="266.76" cy="454.84" rx="5.18" ry="1.71" fill="#c3c9cf"/><ellipse cx="263.3" cy="452.44" rx="12.67" ry="2.61" fill="#ffffff"/><ellipse cx="263.3" cy="450.32" rx="6.34" ry="3.27" fill="#ffffff"/><ellipse cx="269.64" cy="451.13" rx="5.47" ry="2.7" fill="#ffffff"/><ellipse cx="257.54" cy="451.54" rx="4.61" ry="2.45" fill="#ffffff"/><ellipse cx="252.93" cy="452.61" rx="4.03" ry="1.8" fill="#ffffff"/><ellipse cx="273.67" cy="452.77" rx="4.03" ry="1.8" fill="#ffffff"/><ellipse cx="258.69" cy="453.59" rx="4.61" ry="1.63" fill="#ffffff"/><ellipse cx="266.76" cy="453.75" rx="5.18" ry="1.47" fill="#ffffff"/></g><g opacity="0.8"><rect x="223.6" y="482.2" width="57" height="3.8" fill="#2b5c1e"/><rect x="223.6" y="482.2" width="57" height="2.36" fill="#4f9a36"/><rect x="223.6" y="482.5" width="57" height="1.06" fill="#74bb4e"/><path d="M223.6 484.03h1.44v0.84h-1.44zM225.75 484.06h1.21v0.84h-1.21zM228.47 483.35h0.88v0.84h-0.88zM230.12 483.58h1.54v0.84h-1.54zM232.55 482.94h1.38v0.84h-1.38zM235 482.47h1.8v0.84h-1.8zM236.69 483.83h1.2v0.84h-1.2zM239.67 483.13h1.77v0.84h-1.77zM242.37 483.06h0.87v0.84h-0.87zM245.09 483.15h1.31v0.84h-1.31zM247.69 484.1h1.39v0.84h-1.39zM251.02 483.78h1.17v0.84h-1.17zM253.58 482.96h1.83v0.84h-1.83zM256.19 483.07h0.84v0.84h-0.84zM258.27 483.16h1.83v0.84h-1.83zM260.82 483.92h1v0.84h-1zM263.64 482.28h1.35v0.84h-1.35zM267.03 483.72h1.58v0.84h-1.58zM269.9 483.47h0.9v0.84h-0.9zM272.67 483.68h1.11v0.84h-1.11zM275.55 482.27h1.06v0.84h-1.06zM278.12 484.13h1.01v0.84h-1.01z" fill="#a9dc86" opacity="0.55"/><path d="M224.3 483.43h1.31v0.95h-1.31zM226.63 484.38h1.61v0.95h-1.61zM229.52 483.44h1.67v0.95h-1.67zM232.39 484.64h1.11v0.95h-1.11zM235.39 483.33h1.27v0.95h-1.27zM238.59 484.53h1.59v0.95h-1.59zM242.38 484.71h1.28v0.95h-1.28zM244.53 483.49h1.47v0.95h-1.47zM247.34 483.55h1.26v0.95h-1.26zM249.62 484.42h1.18v0.95h-1.18zM252.43 484.8h1.76v0.95h-1.76zM255.37 483.71h1.28v0.95h-1.28zM259.31 483.22h1.61v0.95h-1.61zM261.63 483.64h0.85v0.95h-0.85zM264.93 483.92h1.33v0.95h-1.33zM268.36 484.92h1.37v0.95h-1.37zM270.95 483.7h1.22v0.95h-1.22zM274.43 484.59h1.51v0.95h-1.51zM276.78 484.6h1.18v0.95h-1.18z" fill="#1f4a16" opacity="0.6"/></g></g>
<g id="fcTU"><rect x="286.1" y="451.5" width="27" height="16" fill="#130a08"/><rect x="286.1" y="467.5" width="27" height="17" fill="#080d16"/><path d="M291 434.4L297.4 434.4M294.2 434.4L294.2 440.6M294.2 440.6L294.2 446.8" stroke="#f0f0f0" stroke-width="1.8" fill="none" stroke-linecap="square" /><path d="M300.8 434.4L300.8 440.6M300.8 440.6L300.8 446.8M300.8 446.8L307.2 446.8M307.2 440.6L307.2 446.8M307.2 434.4L307.2 440.6" stroke="#f0f0f0" stroke-width="1.8" fill="none" stroke-linecap="square" /><circle cx="308.6" cy="455.8" r="0.8" fill="none" stroke="#e06a54" stroke-width="0.7"/><path d="M301.52 455.62L306.07 455.62M306.07 455.62L306.07 460.15M306.07 460.15L306.07 464.68M301.52 464.68L306.07 464.68M301.52 460.15L301.52 464.68M301.52 455.62L301.52 460.15" stroke="#e06a54" stroke-width="1.65" fill="none" stroke-linecap="square" /><path d="M293.93 455.62L298.48 455.62M298.48 455.62L298.48 460.15M293.93 460.15L298.48 460.15M293.93 460.15L293.93 464.68M293.93 464.68L298.48 464.68" stroke="#e06a54" stroke-width="1.65" fill="none" stroke-linecap="square" /><circle cx="308.6" cy="472.9" r="0.8" fill="none" stroke="#b9d9ec" stroke-width="0.7"/><path d="M301.52 472.72L306.07 472.72M306.07 472.72L306.07 477.25M306.07 477.25L306.07 481.77M301.52 481.77L306.07 481.77M301.52 477.25L301.52 481.77M301.52 472.72L301.52 477.25" stroke="#b9d9ec" stroke-width="1.65" fill="none" stroke-linecap="square" /><path d="M298.48 472.72L298.48 481.77" stroke="#b9d9ec" stroke-width="1.65" stroke-linecap="square"/><g><ellipse cx="325.6" cy="453.67" rx="8.36" ry="2.94" fill="#c3c9cf"/><ellipse cx="324.08" cy="451.28" rx="4.18" ry="3.68" fill="#c3c9cf"/><ellipse cx="328.26" cy="452.2" rx="3.61" ry="3.04" fill="#c3c9cf"/><ellipse cx="320.28" cy="452.66" rx="3.04" ry="2.76" fill="#c3c9cf"/><ellipse cx="318.76" cy="453.86" rx="2.66" ry="2.02" fill="#c3c9cf"/><ellipse cx="332.44" cy="454.04" rx="2.66" ry="2.02" fill="#c3c9cf"/><ellipse cx="322.56" cy="454.96" rx="3.04" ry="1.84" fill="#c3c9cf"/><ellipse cx="327.88" cy="455.14" rx="3.42" ry="1.66" fill="#c3c9cf"/><ellipse cx="325.6" cy="452.82" rx="8.36" ry="2.53" fill="#ffffff"/><ellipse cx="324.08" cy="450.76" rx="4.18" ry="3.16" fill="#ffffff"/><ellipse cx="328.26" cy="451.56" rx="3.61" ry="2.61" fill="#ffffff"/><ellipse cx="320.28" cy="451.95" rx="3.04" ry="2.37" fill="#ffffff"/><ellipse cx="318.76" cy="452.98" rx="2.66" ry="1.74" fill="#ffffff"/><ellipse cx="332.44" cy="453.14" rx="2.66" ry="1.74" fill="#ffffff"/><ellipse cx="322.56" cy="453.93" rx="3.04" ry="1.58" fill="#ffffff"/><ellipse cx="327.88" cy="454.09" rx="3.42" ry="1.42" fill="#ffffff"/></g><g><ellipse cx="352.2" cy="453.67" rx="12.76" ry="2.94" fill="#c3c9cf"/><ellipse cx="352.2" cy="451.28" rx="6.38" ry="3.68" fill="#c3c9cf"/><ellipse cx="358.58" cy="452.2" rx="5.51" ry="3.04" fill="#c3c9cf"/><ellipse cx="346.4" cy="452.66" rx="4.64" ry="2.76" fill="#c3c9cf"/><ellipse cx="341.76" cy="453.86" rx="4.06" ry="2.02" fill="#c3c9cf"/><ellipse cx="362.64" cy="454.04" rx="4.06" ry="2.02" fill="#c3c9cf"/><ellipse cx="347.56" cy="454.96" rx="4.64" ry="1.84" fill="#c3c9cf"/><ellipse cx="355.68" cy="455.14" rx="5.22" ry="1.66" fill="#c3c9cf"/><ellipse cx="352.2" cy="452.82" rx="12.76" ry="2.53" fill="#ffffff"/><ellipse cx="352.2" cy="450.76" rx="6.38" ry="3.16" fill="#ffffff"/><ellipse cx="358.58" cy="451.56" rx="5.51" ry="2.61" fill="#ffffff"/><ellipse cx="346.4" cy="451.95" rx="4.64" ry="2.37" fill="#ffffff"/><ellipse cx="341.76" cy="452.98" rx="4.06" ry="1.74" fill="#ffffff"/><ellipse cx="362.64" cy="453.14" rx="4.06" ry="1.74" fill="#ffffff"/><ellipse cx="347.56" cy="453.93" rx="4.64" ry="1.58" fill="#ffffff"/><ellipse cx="355.68" cy="454.09" rx="5.22" ry="1.42" fill="#ffffff"/></g><path d="M320.5 459.2 Q325.6 460.4 330.7 459.2" stroke="#8e8e8e" stroke-width="1" fill="none" stroke-linecap="round"/><path d="M341.8 459.2 Q346.7 460.4 351.6 459.2" stroke="#8e8e8e" stroke-width="1" fill="none" stroke-linecap="round"/><path d="M320 467.7 Q323.5 468.9 327 467.7 Q330.5 466.5 334 467.7" stroke="#8e8e8e" stroke-width="1" fill="none" stroke-linecap="round"/><path d="M340 467.7 Q343 468.9 346 467.7 Q349 466.5 352 467.7" stroke="#8e8e8e" stroke-width="1" fill="none" stroke-linecap="round"/><path d="M316 475.1 Q319.5 476.3 323 475.1 Q326.5 473.9 330 475.1 Q333.5 476.3 337 475.1" stroke="#8e8e8e" stroke-width="1" fill="none" stroke-linecap="round"/><path d="M338.6 475.1 Q342.03 476.3 345.45 475.1 Q348.88 473.9 352.3 475.1 Q355.73 476.3 359.15 475.1 Q362.57 473.9 366 475.1" stroke="#8e8e8e" stroke-width="1" fill="none" stroke-linecap="round"/><g opacity="0.8"><rect x="312.9" y="482.9" width="55.8" height="3.8" fill="#2b5c1e"/><rect x="312.9" y="482.9" width="55.8" height="2.36" fill="#4f9a36"/><rect x="312.9" y="483.2" width="55.8" height="1.06" fill="#74bb4e"/><path d="M312.9 483.17h1.66v0.84h-1.66zM315.82 484.98h1.57v0.84h-1.57zM318.09 484.66h0.91v0.84h-0.91zM319.81 484.53h0.84v0.84h-0.84zM322.67 483.69h1.33v0.84h-1.33zM325.62 483.9h1.47v0.84h-1.47zM328.39 484.93h0.99v0.84h-0.99zM330.37 484.84h1.95v0.84h-1.95zM333.47 483.61h1.94v0.84h-1.94zM336.1 483.07h1.5v0.84h-1.5zM338.61 484.67h1.26v0.84h-1.26zM340.87 484.66h1.12v0.84h-1.12zM343.7 483.05h1.17v0.84h-1.17zM345.47 484.11h1.4v0.84h-1.4zM347.64 484.47h1.46v0.84h-1.46zM350.87 484.28h1.42v0.84h-1.42zM352.5 483.41h1.16v0.84h-1.16zM354.35 483.33h1.8v0.84h-1.8zM357.46 484.01h1.54v0.84h-1.54zM360.57 484.08h1.44v0.84h-1.44zM363.19 484.05h1.74v0.84h-1.74zM365.37 483.03h1.88v0.84h-1.88z" fill="#a9dc86" opacity="0.55"/><path d="M313.6 484.48h1.57v0.95h-1.57zM317.13 484.19h0.93v0.95h-0.93zM320.9 484.11h1.23v0.95h-1.23zM323.67 485.21h1.51v0.95h-1.51zM325.83 485.63h0.98v0.95h-0.98zM328.08 485.15h1.29v0.95h-1.29zM331.8 485.55h1.54v0.95h-1.54zM335.79 485.3h1.78v0.95h-1.78zM338.81 485.02h0.94v0.95h-0.94zM342.65 485.38h1.14v0.95h-1.14zM346.14 484.12h1.37v0.95h-1.37zM349.67 485.06h1.22v0.95h-1.22zM352.48 484.88h0.86v0.95h-0.86zM355.11 484.75h1.33v0.95h-1.33zM359.01 484.9h1.25v0.95h-1.25zM362.93 484.89h1.25v0.95h-1.25zM365.24 484.32h1.32v0.95h-1.32z" fill="#1f4a16" opacity="0.6"/></g></g>
<g id="fcWE"><rect x="373" y="452" width="27" height="16" fill="#130a08"/><rect x="373" y="468" width="27" height="17" fill="#080d16"/><path d="M377.9 434.9L377.9 441.1M377.9 441.1L377.9 447.3M386.3 434.9L386.3 441.1M386.3 441.1L386.3 447.3M377.9 447.3L382.1 441.1M386.3 447.3L382.1 441.1" stroke="#f0f0f0" stroke-width="1.8" fill="none" stroke-linecap="square" /><path d="M389.7 434.9L396.1 434.9M389.7 434.9L389.7 441.1M389.7 441.1L389.7 447.3M389.7 447.3L396.1 447.3M389.7 441.1L392.9 441.1" stroke="#f0f0f0" stroke-width="1.8" fill="none" stroke-linecap="square" /><circle cx="396.3" cy="456" r="0.8" fill="none" stroke="#e06a54" stroke-width="0.7"/><path d="M389.22 455.82L393.77 455.82M393.77 455.82L393.77 460.35M393.77 460.35L393.77 464.88M389.22 464.88L393.77 464.88M389.22 460.35L389.22 464.88M389.22 455.82L389.22 460.35" stroke="#e06a54" stroke-width="1.65" fill="none" stroke-linecap="square" /><path d="M386.18 455.82L386.18 464.88" stroke="#e06a54" stroke-width="1.65" stroke-linecap="square"/><circle cx="396.3" cy="472.5" r="0.8" fill="none" stroke="#b9d9ec" stroke-width="0.7"/><path d="M389.22 472.32L393.77 472.32M393.77 472.32L393.77 476.85M389.22 476.85L393.77 476.85M393.77 476.85L393.77 481.38M389.22 481.38L393.77 481.38" stroke="#b9d9ec" stroke-width="1.65" fill="none" stroke-linecap="square" /><g><ellipse cx="414.5" cy="454.06" rx="8.18" ry="2.91" fill="#c3c9cf"/><ellipse cx="413.01" cy="451.69" rx="4.09" ry="3.64" fill="#c3c9cf"/><ellipse cx="417.1" cy="452.6" rx="3.53" ry="3" fill="#c3c9cf"/><ellipse cx="409.29" cy="453.06" rx="2.98" ry="2.73" fill="#c3c9cf"/><ellipse cx="407.8" cy="454.24" rx="2.6" ry="2" fill="#c3c9cf"/><ellipse cx="421.2" cy="454.42" rx="2.6" ry="2" fill="#c3c9cf"/><ellipse cx="411.52" cy="455.33" rx="2.98" ry="1.82" fill="#c3c9cf"/><ellipse cx="416.73" cy="455.51" rx="3.35" ry="1.64" fill="#c3c9cf"/><ellipse cx="414.5" cy="453.22" rx="8.18" ry="2.5" fill="#ffffff"/><ellipse cx="413.01" cy="451.18" rx="4.09" ry="3.13" fill="#ffffff"/><ellipse cx="417.1" cy="451.96" rx="3.53" ry="2.58" fill="#ffffff"/><ellipse cx="409.29" cy="452.35" rx="2.98" ry="2.35" fill="#ffffff"/><ellipse cx="407.8" cy="453.37" rx="2.6" ry="1.72" fill="#ffffff"/><ellipse cx="421.2" cy="453.53" rx="2.6" ry="1.72" fill="#ffffff"/><ellipse cx="411.52" cy="454.31" rx="2.98" ry="1.57" fill="#ffffff"/><ellipse cx="416.73" cy="454.47" rx="3.35" ry="1.41" fill="#ffffff"/></g><g><ellipse cx="440.7" cy="454.06" rx="12.63" ry="2.91" fill="#c3c9cf"/><ellipse cx="440.7" cy="451.69" rx="6.31" ry="3.64" fill="#c3c9cf"/><ellipse cx="447.01" cy="452.6" rx="5.45" ry="3" fill="#c3c9cf"/><ellipse cx="434.96" cy="453.06" rx="4.59" ry="2.73" fill="#c3c9cf"/><ellipse cx="430.37" cy="454.24" rx="4.02" ry="2" fill="#c3c9cf"/><ellipse cx="451.03" cy="454.42" rx="4.02" ry="2" fill="#c3c9cf"/><ellipse cx="436.11" cy="455.33" rx="4.59" ry="1.82" fill="#c3c9cf"/><ellipse cx="444.14" cy="455.51" rx="5.17" ry="1.64" fill="#c3c9cf"/><ellipse cx="440.7" cy="453.22" rx="12.63" ry="2.5" fill="#ffffff"/><ellipse cx="440.7" cy="451.18" rx="6.31" ry="3.13" fill="#ffffff"/><ellipse cx="447.01" cy="451.96" rx="5.45" ry="2.58" fill="#ffffff"/><ellipse cx="434.96" cy="452.35" rx="4.59" ry="2.35" fill="#ffffff"/><ellipse cx="430.37" cy="453.37" rx="4.02" ry="1.72" fill="#ffffff"/><ellipse cx="451.03" cy="453.53" rx="4.02" ry="1.72" fill="#ffffff"/><ellipse cx="436.11" cy="454.31" rx="4.59" ry="1.57" fill="#ffffff"/><ellipse cx="444.14" cy="454.47" rx="5.17" ry="1.41" fill="#ffffff"/></g><path d="M422 457.8L424.6 465.6" stroke="#d6c86e" stroke-width="1.3" stroke-linecap="round"/><path d="M445.6 458.4L444.6 465.6" stroke="#d6c86e" stroke-width="1.3" stroke-linecap="round"/><circle cx="406.7" cy="463.5" r="1" fill="#dedede"/><circle cx="420" cy="463.5" r="1" fill="#dedede"/><circle cx="428.5" cy="463.5" r="1" fill="#dedede"/><circle cx="441" cy="463.5" r="1" fill="#dedede"/><circle cx="453.6" cy="463.5" r="1" fill="#dedede"/><circle cx="407.4" cy="471.5" r="1" fill="#dedede"/><circle cx="420.7" cy="471.5" r="1" fill="#dedede"/><circle cx="429.2" cy="471.5" r="1" fill="#dedede"/><circle cx="441.7" cy="471.5" r="1" fill="#dedede"/><circle cx="454.3" cy="471.5" r="1" fill="#dedede"/><circle cx="408.1" cy="479.1" r="1" fill="#dedede"/><circle cx="421.4" cy="479.1" r="1" fill="#dedede"/><circle cx="429.9" cy="479.1" r="1" fill="#dedede"/><circle cx="442.4" cy="479.1" r="1" fill="#dedede"/><circle cx="455" cy="479.1" r="1" fill="#dedede"/><g opacity="0.8"><rect x="402" y="482.5" width="55.4" height="3.8" fill="#2b5c1e"/><rect x="402" y="482.5" width="55.4" height="2.36" fill="#4f9a36"/><rect x="402" y="482.8" width="55.4" height="1.06" fill="#74bb4e"/><path d="M402 484.43h0.99v0.84h-0.99zM404.64 483.08h1.3v0.84h-1.3zM407.95 483.85h0.81v0.84h-0.81zM410.54 483.64h1.17v0.84h-1.17zM413.6 483.45h1.54v0.84h-1.54zM415.25 484.39h1.82v0.84h-1.82zM418.36 484.32h1.2v0.84h-1.2zM420.9 484.44h1.36v0.84h-1.36zM423.51 483.55h1.49v0.84h-1.49zM426.1 483.05h1.27v0.84h-1.27zM427.76 482.74h1.75v0.84h-1.75zM430.35 483.56h1.84v0.84h-1.84zM432.58 483.83h1.59v0.84h-1.59zM435.41 483.62h1.67v0.84h-1.67zM437.66 483.4h1.09v0.84h-1.09zM439.9 483.49h1.35v0.84h-1.35zM442.62 483.29h0.93v0.84h-0.93zM444.46 483.02h1.18v0.84h-1.18zM446.42 483.79h1.47v0.84h-1.47zM449.02 484.01h0.81v0.84h-0.81zM452.11 484.11h1.12v0.84h-1.12zM455.39 482.88h0.92v0.84h-0.92z" fill="#a9dc86" opacity="0.55"/><path d="M402.7 484.26h1.1v0.95h-1.1zM405.63 484.35h0.88v0.95h-0.88zM408.35 483.91h1.8v0.95h-1.8zM411.25 484.13h0.9v0.95h-0.9zM413.81 485.03h1.67v0.95h-1.67zM417.43 483.89h1.15v0.95h-1.15zM420.37 484.49h1.6v0.95h-1.6zM423.58 485.17h0.88v0.95h-0.88zM426.66 484.63h1.17v0.95h-1.17zM428.93 483.61h0.89v0.95h-0.89zM431.73 483.99h1.08v0.95h-1.08zM434.94 483.73h1.76v0.95h-1.76zM436.98 484.12h1.49v0.95h-1.49zM440.52 484.1h1.29v0.95h-1.29zM443.48 483.62h0.89v0.95h-0.89zM446.09 483.51h1.76v0.95h-1.76zM449.22 485.15h0.8v0.95h-0.8zM452.08 483.92h1.3v0.95h-1.3zM455.92 483.86h1.39v0.95h-1.39z" fill="#1f4a16" opacity="0.6"/></g></g>
<g id="fcTH"><rect x="463.1" y="452.3" width="27" height="16" fill="#130a08"/><rect x="463.1" y="468.3" width="27" height="17" fill="#080d16"/><path d="M468 435.2L474.4 435.2M471.2 435.2L471.2 441.4M471.2 441.4L471.2 447.6" stroke="#f0f0f0" stroke-width="1.8" fill="none" stroke-linecap="square" /><path d="M477.8 435.2L477.8 441.4M477.8 441.4L477.8 447.6M484.2 435.2L484.2 441.4M484.2 441.4L484.2 447.6M477.8 441.4L484.2 441.4" stroke="#f0f0f0" stroke-width="1.8" fill="none" stroke-linecap="square" /><circle cx="486.1" cy="456.6" r="0.8" fill="none" stroke="#e06a54" stroke-width="0.7"/><path d="M479.02 456.43L483.57 456.43M483.57 456.43L483.57 460.95M479.02 460.95L483.57 460.95M479.02 460.95L479.02 465.48M479.02 465.48L483.57 465.48" stroke="#e06a54" stroke-width="1.65" fill="none" stroke-linecap="square" /><line x1="473.4" y1="460.95" x2="476.8" y2="460.95" stroke="#e06a54" stroke-width="1.65"/><circle cx="486.1" cy="473" r="0.8" fill="none" stroke="#b9d9ec" stroke-width="0.7"/><path d="M479.02 472.82L483.57 472.82M483.57 472.82L483.57 477.35M479.02 472.82L479.02 477.35M479.02 477.35L483.57 477.35M483.57 477.35L483.57 481.88M479.02 481.88L483.57 481.88" stroke="#b9d9ec" stroke-width="1.65" fill="none" stroke-linecap="square" /><path d="M475.98 472.82L475.98 481.88" stroke="#b9d9ec" stroke-width="1.65" stroke-linecap="square"/><line x1="466.35" y1="477.35" x2="469.75" y2="477.35" stroke="#b9d9ec" stroke-width="1.65"/><g><ellipse cx="502.8" cy="454.44" rx="8.23" ry="2.88" fill="#c3c9cf"/><ellipse cx="501.3" cy="452.1" rx="4.11" ry="3.6" fill="#c3c9cf"/><ellipse cx="505.42" cy="453" rx="3.55" ry="2.97" fill="#c3c9cf"/><ellipse cx="497.56" cy="453.45" rx="2.99" ry="2.7" fill="#c3c9cf"/><ellipse cx="496.07" cy="454.62" rx="2.62" ry="1.98" fill="#c3c9cf"/><ellipse cx="509.53" cy="454.8" rx="2.62" ry="1.98" fill="#c3c9cf"/><ellipse cx="499.81" cy="455.7" rx="2.99" ry="1.8" fill="#c3c9cf"/><ellipse cx="505.04" cy="455.88" rx="3.37" ry="1.62" fill="#c3c9cf"/><ellipse cx="502.8" cy="453.61" rx="8.23" ry="2.48" fill="#ffffff"/><ellipse cx="501.3" cy="451.6" rx="4.11" ry="3.1" fill="#ffffff"/><ellipse cx="505.42" cy="452.37" rx="3.55" ry="2.55" fill="#ffffff"/><ellipse cx="497.56" cy="452.76" rx="2.99" ry="2.32" fill="#ffffff"/><ellipse cx="496.07" cy="453.76" rx="2.62" ry="1.7" fill="#ffffff"/><ellipse cx="509.53" cy="453.92" rx="2.62" ry="1.7" fill="#ffffff"/><ellipse cx="499.81" cy="454.69" rx="2.99" ry="1.55" fill="#ffffff"/><ellipse cx="505.04" cy="454.85" rx="3.37" ry="1.39" fill="#ffffff"/></g><g><ellipse cx="528.9" cy="454.44" rx="12.5" ry="2.88" fill="#c3c9cf"/><ellipse cx="528.9" cy="452.1" rx="6.25" ry="3.6" fill="#c3c9cf"/><ellipse cx="535.15" cy="453" rx="5.4" ry="2.97" fill="#c3c9cf"/><ellipse cx="523.22" cy="453.45" rx="4.54" ry="2.7" fill="#c3c9cf"/><ellipse cx="518.68" cy="454.62" rx="3.98" ry="1.98" fill="#c3c9cf"/><ellipse cx="539.12" cy="454.8" rx="3.98" ry="1.98" fill="#c3c9cf"/><ellipse cx="524.36" cy="455.7" rx="4.54" ry="1.8" fill="#c3c9cf"/><ellipse cx="532.31" cy="455.88" rx="5.11" ry="1.62" fill="#c3c9cf"/><ellipse cx="528.9" cy="453.61" rx="12.5" ry="2.48" fill="#ffffff"/><ellipse cx="528.9" cy="451.6" rx="6.25" ry="3.1" fill="#ffffff"/><ellipse cx="535.15" cy="452.37" rx="5.4" ry="2.55" fill="#ffffff"/><ellipse cx="523.22" cy="452.76" rx="4.54" ry="2.32" fill="#ffffff"/><ellipse cx="518.68" cy="453.76" rx="3.98" ry="1.7" fill="#ffffff"/><ellipse cx="539.12" cy="453.92" rx="3.98" ry="1.7" fill="#ffffff"/><ellipse cx="524.36" cy="454.69" rx="4.54" ry="1.55" fill="#ffffff"/><ellipse cx="532.31" cy="454.85" rx="5.11" ry="1.39" fill="#ffffff"/></g><circle cx="504.2" cy="464.1" r="1.3" fill="#d2caca"/><circle cx="502.3" cy="472.1" r="1.3" fill="#d2caca"/><circle cx="500.8" cy="479.6" r="1.3" fill="#d2caca"/><circle cx="525.1" cy="463.2" r="1.3" fill="#d2caca"/><circle cx="537.8" cy="461.8" r="1.3" fill="#d2caca"/><circle cx="523.9" cy="471.4" r="1.3" fill="#d2caca"/><circle cx="536.3" cy="471.4" r="1.3" fill="#d2caca"/><circle cx="522.6" cy="478.7" r="1.3" fill="#d2caca"/><circle cx="534.6" cy="479" r="1.3" fill="#d2caca"/><g opacity="0.8"><rect x="490.7" y="483.5" width="55.3" height="3.4" fill="#2b5c1e"/><rect x="490.7" y="483.5" width="55.3" height="2.11" fill="#4f9a36"/><rect x="490.7" y="483.77" width="55.3" height="0.95" fill="#74bb4e"/><path d="M490.7 484.59h1.64v0.75h-1.64zM492.86 484.43h1.05v0.75h-1.05zM495.44 485.26h1.54v0.75h-1.54zM498.15 484.88h1.17v0.75h-1.17zM500.29 484.02h1.71v0.75h-1.71zM502.23 484.1h1.44v0.75h-1.44zM505.51 484.39h1.66v0.75h-1.66zM507.27 484.68h1.66v0.75h-1.66zM510.01 483.75h1.41v0.75h-1.41zM512.21 484.94h0.9v0.75h-0.9zM515.24 484.05h0.99v0.75h-0.99zM518.61 484.66h1.05v0.75h-1.05zM520.22 484.6h1.58v0.75h-1.58zM523.58 483.91h1.31v0.75h-1.31zM526.25 485.24h1.16v0.75h-1.16zM528.2 484.88h1.19v0.75h-1.19zM530.17 483.96h1.98v0.75h-1.98zM532.06 485.06h1.87v0.75h-1.87zM534.7 483.69h1.34v0.75h-1.34zM537.55 485.11h1.7v0.75h-1.7zM540.2 484.53h1.27v0.75h-1.27zM542.45 485.22h1.6v0.75h-1.6zM544.88 484.28h0.94v0.75h-0.94z" fill="#a9dc86" opacity="0.55"/><path d="M491.4 486.05h1.79v0.85h-1.79zM493.62 484.64h1.72v0.85h-1.72zM497.18 485.85h1.45v0.85h-1.45zM500.29 484.43h1.68v0.85h-1.68zM503.82 484.87h1.24v0.85h-1.24zM506.38 484.55h1.08v0.85h-1.08zM509.62 484.79h0.88v0.85h-0.88zM512.43 485.1h1.25v0.85h-1.25zM514.94 484.77h0.81v0.85h-0.81zM517.67 485.16h1.31v0.85h-1.31zM521.37 484.43h0.92v0.85h-0.92zM525.2 485.24h1.16v0.85h-1.16zM528.55 486.02h1.3v0.85h-1.3zM531.79 485.27h1.17v0.85h-1.17zM534.9 486h1.66v0.85h-1.66zM538.08 485.82h1.59v0.85h-1.59zM540.29 484.58h1.39v0.85h-1.39zM542.31 485.67h1.11v0.85h-1.11zM544.62 485.03h1.4v0.85h-1.4z" fill="#1f4a16" opacity="0.6"/></g></g>
<g stroke="#8c8c8c" stroke-width="1.1" fill="none">
<path d="M304.3 302.4 L304.3 429.2"/>
<path d="M436.6 303.3 L436.6 429.9"/>
<path d="M193 428.7 L548 430.3"/>
<path d="M304.3 371.8 L436.6 372.4"/>
<path d="M282.5 429 L282.5 488.3"/>
<path d="M371 429.3 L371 488.6"/>
<path d="M460.2 429.7 L460.2 489"/>
</g>
<path d="M194.8 301.5 L545 304 Q547 304 547 306 L548.5 487.3 Q548.5 489.3 546.5 489.3 L194.6 488 Q192.6 488 192.6 486 L192.8 303.5 Q192.8 301.5 194.8 301.5Z" fill="none" stroke="#a8a8a8" stroke-width="1.3"/>
</g>
<g><rect x="20.5" y="174.5" width="126" height="82.5" rx="41.25" fill="#030303"/><g clip-path="url(#b1)"><g transform="translate(35.6 178.2) scale(1.28 1.3) translate(-211.2 -306.8)"><g transform="translate(0 306.8) scale(1 1.1) translate(0 -306.8)"><circle cx="201.6" cy="309.6" r="2.6" fill="none" stroke="#f2f2f2" stroke-width="1"/><circle cx="203.6" cy="311.6" r="2.6" fill="none" stroke="#f2f2f2" stroke-width="1"/><path d="M212 307.8L212 317.4" stroke="#f2f2f2" stroke-width="2" stroke-linecap="square"/><path d="M214.6 307.8L219 307.8M219 307.8L219 312.6M219 312.6L219 317.4M214.6 317.4L219 317.4M214.6 312.6L214.6 317.4M214.6 307.8L214.6 312.6" stroke="#f2f2f2" stroke-width="2" fill="none" stroke-linecap="square" /><circle cx="221.3" cy="310.6" r="0.75" fill="#f2f2f2"/><circle cx="221.3" cy="315" r="0.75" fill="#f2f2f2"/><path d="M223.8 307.8L228.2 307.8M228.2 307.8L228.2 312.6M223.8 312.6L228.2 312.6M228.2 312.6L228.2 317.4M223.8 317.4L228.2 317.4" stroke="#f2f2f2" stroke-width="2" fill="none" stroke-linecap="square" /><path d="M231 307.8L235.4 307.8M235.4 307.8L235.4 312.6M235.4 312.6L235.4 317.4M231 317.4L235.4 317.4M231 312.6L231 317.4M231 307.8L231 312.6" stroke="#f2f2f2" stroke-width="2" fill="none" stroke-linecap="square" /><path d="M238 312L240.6 312M238 312L238 314.9M238 314.9L240.6 314.9M240.6 314.9L240.6 317.8M238 317.8L240.6 317.8" stroke="#f2f2f2" stroke-width="1.2" fill="none" stroke-linecap="square" /><path d="M242.6 312L245.2 312M245.2 312L245.2 314.9M245.2 314.9L245.2 317.8M242.6 317.8L245.2 317.8M242.6 314.9L242.6 317.8M242.6 312L242.6 314.9" stroke="#f2f2f2" stroke-width="1.2" fill="none" stroke-linecap="square" /><path d="M250.95 309.35L255.85 309.35M250.95 309.35L250.95 313.4M250.95 313.4L255.85 313.4M255.85 313.4L255.85 317.45M250.95 317.45L255.85 317.45" stroke="#f2f2f2" stroke-width="1.9" fill="none" stroke-linecap="square" /><path d="M259.15 309.35L259.15 313.4M259.15 313.4L259.15 317.45M259.15 317.45L264.05 317.45M264.05 313.4L264.05 317.45M264.05 309.35L264.05 313.4" stroke="#f2f2f2" stroke-width="1.9" fill="none" stroke-linecap="square" /><path d="M272.55 309.55L272.55 317.65" stroke="#f2f2f2" stroke-width="1.5" stroke-linecap="square"/><path d="M275.15 309.55L278.25 309.55M278.25 309.55L278.25 313.6M275.15 309.55L275.15 313.6M275.15 313.6L278.25 313.6M278.25 313.6L278.25 317.65M275.15 317.65L278.25 317.65" stroke="#f2f2f2" stroke-width="1.5" fill="none" stroke-linecap="square" /><circle cx="281.6" cy="310" r="0.9" fill="none" stroke="#f2f2f2" stroke-width="0.8"/><path d="M292.75 309.55L296.05 309.55M294.4 309.55L294.4 313.6M294.4 313.6L294.4 317.65" stroke="#f2f2f2" stroke-width="1.5" fill="none" stroke-linecap="square" /><circle cx="298.6" cy="310" r="0.8" fill="none" stroke="#f2f2f2" stroke-width="0.7"/></g><rect x="273" y="327.6" width="27" height="17.6" fill="#181818"/><g><ellipse cx="219.7" cy="336.16" rx="8.8" ry="2.72" fill="#c3c9cf"/><ellipse cx="218.1" cy="333.95" rx="4.4" ry="3.4" fill="#c3c9cf"/><ellipse cx="222.5" cy="334.8" rx="3.8" ry="2.81" fill="#c3c9cf"/><ellipse cx="214.1" cy="335.23" rx="3.2" ry="2.55" fill="#c3c9cf"/><ellipse cx="212.5" cy="336.33" rx="2.8" ry="1.87" fill="#c3c9cf"/><ellipse cx="226.9" cy="336.5" rx="2.8" ry="1.87" fill="#c3c9cf"/><ellipse cx="216.5" cy="337.35" rx="3.2" ry="1.7" fill="#c3c9cf"/><ellipse cx="222.1" cy="337.52" rx="3.6" ry="1.53" fill="#c3c9cf"/><ellipse cx="219.7" cy="335.37" rx="8.8" ry="2.34" fill="#ffffff"/><ellipse cx="218.1" cy="333.47" rx="4.4" ry="2.92" fill="#ffffff"/><ellipse cx="222.5" cy="334.2" rx="3.8" ry="2.41" fill="#ffffff"/><ellipse cx="214.1" cy="334.57" rx="3.2" ry="2.19" fill="#ffffff"/><ellipse cx="212.5" cy="335.52" rx="2.8" ry="1.61" fill="#ffffff"/><ellipse cx="226.9" cy="335.67" rx="2.8" ry="1.61" fill="#ffffff"/><ellipse cx="216.5" cy="336.4" rx="3.2" ry="1.46" fill="#ffffff"/><ellipse cx="222.1" cy="336.54" rx="3.6" ry="1.32" fill="#ffffff"/></g><g><path d="M263.55 342.89L268.01 344.39L263.34 344.96ZM262.81 346.7L265.37 349.26L261.82 348.54ZM260.67 349.94L262.77 354.15L259.05 351.26ZM257.45 352.11L257.46 355.73L255.46 352.71ZM253.65 352.89L252.15 357.35L251.58 352.68ZM249.84 352.15L247.28 354.71L248 351.16ZM246.6 350.01L242.39 352.11L245.28 348.39ZM244.43 346.79L240.81 346.8L243.83 344.8ZM243.65 342.99L239.19 341.49L243.86 340.92ZM244.39 339.18L241.83 336.62L245.38 337.34ZM246.53 335.94L244.43 331.73L248.15 334.62ZM249.75 333.77L249.74 330.15L251.74 333.17ZM253.55 332.99L255.05 328.53L255.62 333.2ZM257.36 333.73L259.92 331.17L259.2 334.72ZM260.6 335.87L264.81 333.77L261.92 337.49ZM262.77 339.09L266.39 339.08L263.37 341.08Z" fill="#f3c63a"/><circle cx="253.6" cy="342.94" r="8.88" fill="#f59c1c"/><circle cx="252.71" cy="342.05" r="5.51" fill="#f9b42c" opacity="0.75"/></g><g><ellipse cx="218.3" cy="367.4" rx="16.5" ry="5.6" fill="#c3c9cf"/><ellipse cx="215.3" cy="362.85" rx="8.25" ry="7" fill="#c3c9cf"/><ellipse cx="223.55" cy="364.6" rx="7.12" ry="5.78" fill="#c3c9cf"/><ellipse cx="207.8" cy="365.48" rx="6" ry="5.25" fill="#c3c9cf"/><ellipse cx="204.8" cy="367.75" rx="5.25" ry="3.85" fill="#c3c9cf"/><ellipse cx="231.8" cy="368.1" rx="5.25" ry="3.85" fill="#c3c9cf"/><ellipse cx="212.3" cy="369.85" rx="6" ry="3.5" fill="#c3c9cf"/><ellipse cx="222.8" cy="370.2" rx="6.75" ry="3.15" fill="#c3c9cf"/><ellipse cx="218.3" cy="365.78" rx="16.5" ry="4.82" fill="#ffffff"/><ellipse cx="215.3" cy="361.87" rx="8.25" ry="6.02" fill="#ffffff"/><ellipse cx="223.55" cy="363.38" rx="7.12" ry="4.97" fill="#ffffff"/><ellipse cx="207.8" cy="364.13" rx="6" ry="4.51" fill="#ffffff"/><ellipse cx="204.8" cy="366.08" rx="5.25" ry="3.31" fill="#ffffff"/><ellipse cx="231.8" cy="366.39" rx="5.25" ry="3.31" fill="#ffffff"/><ellipse cx="212.3" cy="367.89" rx="6" ry="3.01" fill="#ffffff"/><ellipse cx="222.8" cy="368.19" rx="6.75" ry="2.71" fill="#ffffff"/></g><g><ellipse cx="267.3" cy="370" rx="24.64" ry="5.6" fill="#c3c9cf"/><ellipse cx="262.82" cy="365.45" rx="12.32" ry="7" fill="#c3c9cf"/><ellipse cx="275.14" cy="367.2" rx="10.64" ry="5.78" fill="#c3c9cf"/><ellipse cx="251.62" cy="368.07" rx="8.96" ry="5.25" fill="#c3c9cf"/><ellipse cx="247.14" cy="370.35" rx="7.84" ry="3.85" fill="#c3c9cf"/><ellipse cx="287.46" cy="370.7" rx="7.84" ry="3.85" fill="#c3c9cf"/><ellipse cx="258.34" cy="372.45" rx="8.96" ry="3.5" fill="#c3c9cf"/><ellipse cx="274.02" cy="372.8" rx="10.08" ry="3.15" fill="#c3c9cf"/><ellipse cx="267.3" cy="368.38" rx="24.64" ry="4.82" fill="#ffffff"/><ellipse cx="262.82" cy="364.47" rx="12.32" ry="6.02" fill="#ffffff"/><ellipse cx="275.14" cy="365.97" rx="10.64" ry="4.97" fill="#ffffff"/><ellipse cx="251.62" cy="366.73" rx="8.96" ry="4.51" fill="#ffffff"/><ellipse cx="247.14" cy="368.68" rx="7.84" ry="3.31" fill="#ffffff"/><ellipse cx="287.46" cy="368.99" rx="7.84" ry="3.31" fill="#ffffff"/><ellipse cx="258.34" cy="370.49" rx="8.96" ry="3.01" fill="#ffffff"/><ellipse cx="274.02" cy="370.79" rx="10.08" ry="2.71" fill="#ffffff"/></g><g opacity="1"><rect x="194.5" y="419.6" width="108" height="7.8" fill="#2b5c1e"/><rect x="194.5" y="419.6" width="108" height="4.84" fill="#4f9a36"/><rect x="194.5" y="420.22" width="108" height="2.18" fill="#74bb4e"/><path d="M194.5 422.79h1.08v1.72h-1.08zM197.38 422.65h1.24v1.72h-1.24zM199.56 420.39h1.05v1.72h-1.05zM202.27 421.05h1.76v1.72h-1.76zM203.95 420.38h1.35v1.72h-1.35zM205.77 420.28h1.93v1.72h-1.93zM209.12 419.83h0.82v1.72h-0.82zM210.97 420.48h0.82v1.72h-0.82zM212.65 420.49h1.52v1.72h-1.52zM215.84 421.45h1.94v1.72h-1.94zM218.53 420.85h1.66v1.72h-1.66zM220.66 423.58h1.91v1.72h-1.91zM222.28 422.97h0.99v1.72h-0.99zM225.35 422.09h1.79v1.72h-1.79zM227.77 422.54h0.97v1.72h-0.97zM230.19 423.11h1.87v1.72h-1.87zM232.52 420.55h0.81v1.72h-0.81zM234.95 421.28h1.53v1.72h-1.53zM237.99 420.66h1.93v1.72h-1.93zM239.97 421.73h1.34v1.72h-1.34zM243.29 419.83h1.64v1.72h-1.64zM245.51 420.42h1.7v1.72h-1.7zM248.58 419.95h1.96v1.72h-1.96zM251.38 422.67h1.83v1.72h-1.83zM253.78 423.25h1.27v1.72h-1.27zM256.61 419.76h1.11v1.72h-1.11zM258.36 422.22h0.99v1.72h-0.99zM260.86 423.81h0.89v1.72h-0.89zM262.79 419.93h1.83v1.72h-1.83zM265.65 422.9h1.63v1.72h-1.63zM267.69 422.04h1.57v1.72h-1.57zM270.38 421.32h1.13v1.72h-1.13zM273.01 423.76h1.98v1.72h-1.98zM274.85 423.57h1.17v1.72h-1.17zM276.88 421.63h1.73v1.72h-1.73zM279.07 421.67h1.41v1.72h-1.41zM281.37 420.43h1.43v1.72h-1.43zM284.02 420.34h1.35v1.72h-1.35zM286.9 419.9h0.88v1.72h-0.88zM289.66 422.2h1.51v1.72h-1.51zM291.97 419.86h1.55v1.72h-1.55zM293.63 422.49h1.72v1.72h-1.72zM297.01 422.93h1.93v1.72h-1.93zM299.93 421.09h1.96v1.72h-1.96z" fill="#a9dc86" opacity="0.55"/><path d="M195.2 423.47h1.55v1.95h-1.55zM198.23 422.89h1.09v1.95h-1.09zM201.75 421.74h1.26v1.95h-1.26zM205.54 421.97h0.89v1.95h-0.89zM208.36 424.56h0.85v1.95h-0.85zM211.02 422.46h1.46v1.95h-1.46zM214.65 422.64h0.98v1.95h-0.98zM217.65 424.1h1.2v1.95h-1.2zM220.52 424.9h1.68v1.95h-1.68zM223.63 424.72h1.66v1.95h-1.66zM226.02 424.05h1.03v1.95h-1.03zM230.01 424.82h0.91v1.95h-0.91zM232.25 422.63h1.54v1.95h-1.54zM234.58 422.04h1.24v1.95h-1.24zM236.9 421.91h0.94v1.95h-0.94zM239.15 422.75h1.01v1.95h-1.01zM242.25 423.23h1.42v1.95h-1.42zM245.26 425.26h1.77v1.95h-1.77zM247.54 422.32h1.31v1.95h-1.31zM250.38 423.11h1.22v1.95h-1.22zM254 422.54h1.76v1.95h-1.76zM256.59 423.13h1.18v1.95h-1.18zM258.73 424.09h0.91v1.95h-0.91zM262.37 421.7h1.27v1.95h-1.27zM265.08 424.24h1.43v1.95h-1.43zM267.69 422.36h1.69v1.95h-1.69zM270.37 425.13h1.09v1.95h-1.09zM273.45 422.79h1.07v1.95h-1.07zM276.07 423.65h1.67v1.95h-1.67zM278.93 424.76h1.7v1.95h-1.7zM281.03 422.76h1.21v1.95h-1.21zM284.87 424.03h1.62v1.95h-1.62zM287.3 424.8h1.79v1.95h-1.79zM289.97 423.36h1.46v1.95h-1.46zM293.44 421.77h1.57v1.95h-1.57zM297.4 422.24h1.4v1.95h-1.4zM299.72 422.01h1.32v1.95h-1.32z" fill="#1f4a16" opacity="0.6"/></g></g></g></g>
<g><rect x="313" y="93.5" width="122.5" height="82" rx="41" fill="#030303"/><g clip-path="url(#b2)"><g transform="translate(328 105) scale(1.17 1.25) translate(-199.1 -433.3)"><rect x="195.1" y="451.3" width="27" height="16" fill="#130a08"/><rect x="195.1" y="467.3" width="27" height="17" fill="#080d16"/><path d="M200 434.2L200 440.4M200 440.4L200 446.6M208.4 434.2L208.4 440.4M208.4 440.4L208.4 446.6M200 434.2L204.2 440.4M208.4 434.2L204.2 440.4" stroke="#f0f0f0" stroke-width="1.8" fill="none" stroke-linecap="square" /><path d="M211.8 434.2L218.2 434.2M218.2 434.2L218.2 440.4M218.2 440.4L218.2 446.6M211.8 446.6L218.2 446.6M211.8 440.4L211.8 446.6M211.8 434.2L211.8 440.4" stroke="#f0f0f0" stroke-width="1.8" fill="none" stroke-linecap="square" /><circle cx="219.1" cy="455.3" r="0.8" fill="none" stroke="#e06a54" stroke-width="0.7"/><path d="M212.03 455.12L216.58 455.12M216.58 455.12L216.58 459.65M216.58 459.65L216.58 464.18M212.03 464.18L216.58 464.18M212.03 459.65L212.03 464.18M212.03 455.12L212.03 459.65" stroke="#e06a54" stroke-width="1.65" fill="none" stroke-linecap="square" /><path d="M204.43 455.12L208.98 455.12M208.98 455.12L208.98 459.65M204.43 459.65L208.98 459.65M208.98 459.65L208.98 464.18M204.43 464.18L208.98 464.18" stroke="#e06a54" stroke-width="1.65" fill="none" stroke-linecap="square" /><circle cx="219.1" cy="472.1" r="0.8" fill="none" stroke="#b9d9ec" stroke-width="0.7"/><path d="M212.03 471.93L216.58 471.93M216.58 471.93L216.58 476.45M216.58 476.45L216.58 480.98M212.03 480.98L216.58 480.98M212.03 476.45L212.03 480.98M212.03 471.93L212.03 476.45" stroke="#b9d9ec" stroke-width="1.65" fill="none" stroke-linecap="square" /><path d="M204.43 471.93L208.98 471.93M208.98 471.93L208.98 476.45M204.43 476.45L208.98 476.45M204.43 476.45L204.43 480.98M204.43 480.98L208.98 480.98" stroke="#b9d9ec" stroke-width="1.65" fill="none" stroke-linecap="square" /><g><ellipse cx="236.5" cy="436.04" rx="5.02" ry="1.47" fill="#c3c9cf"/><ellipse cx="235.59" cy="434.84" rx="2.51" ry="1.84" fill="#c3c9cf"/><ellipse cx="238.1" cy="435.3" rx="2.17" ry="1.52" fill="#c3c9cf"/><ellipse cx="233.31" cy="435.53" rx="1.82" ry="1.38" fill="#c3c9cf"/><ellipse cx="232.4" cy="436.13" rx="1.6" ry="1.01" fill="#c3c9cf"/><ellipse cx="240.6" cy="436.22" rx="1.6" ry="1.01" fill="#c3c9cf"/><ellipse cx="234.68" cy="436.68" rx="1.82" ry="0.92" fill="#c3c9cf"/><ellipse cx="237.87" cy="436.77" rx="2.05" ry="0.83" fill="#c3c9cf"/><ellipse cx="236.5" cy="435.61" rx="5.02" ry="1.27" fill="#ffffff"/><ellipse cx="235.59" cy="434.58" rx="2.51" ry="1.58" fill="#ffffff"/><ellipse cx="238.1" cy="434.98" rx="2.17" ry="1.31" fill="#ffffff"/><ellipse cx="233.31" cy="435.18" rx="1.82" ry="1.19" fill="#ffffff"/><ellipse cx="232.4" cy="435.69" rx="1.6" ry="0.87" fill="#ffffff"/><ellipse cx="240.6" cy="435.77" rx="1.6" ry="0.87" fill="#ffffff"/><ellipse cx="234.68" cy="436.16" rx="1.82" ry="0.79" fill="#ffffff"/><ellipse cx="237.87" cy="436.24" rx="2.05" ry="0.71" fill="#ffffff"/></g><path d="M229.1 440.38 Q233.1 443.46 237.9 441.7 T245.1 439.94M230.7 443.02 Q237.1 444.78 244.3 442.14" stroke="#2d4a58" stroke-width="1.4" fill="none" stroke-linecap="round"/><g><path d="M261.75 438.93L264.47 439.8L261.63 440.11ZM261.27 441.08L262.66 442.81L260.57 442.04ZM259.77 442.7L260.38 445.48L258.69 443.19ZM257.67 443.35L256.87 445.43L256.49 443.23ZM255.52 442.87L253.41 444.78L254.56 442.17ZM253.9 441.37L251.7 441.71L253.41 440.29ZM253.25 439.27L250.53 438.4L253.37 438.09ZM253.73 437.12L252.34 435.39L254.43 436.16ZM255.23 435.5L254.62 432.72L256.31 435.01ZM257.33 434.85L258.13 432.77L258.51 434.97ZM259.48 435.33L261.59 433.42L260.44 436.03ZM261.1 436.83L263.3 436.49L261.59 437.91Z" fill="#f3c63a"/><circle cx="257.5" cy="439.1" r="3.8" fill="#f59c1c"/><circle cx="257.12" cy="438.72" r="2.36" fill="#f9b42c" opacity="0.75"/></g><g><ellipse cx="236.2" cy="453.32" rx="8.36" ry="3.04" fill="#c3c9cf"/><ellipse cx="234.68" cy="450.85" rx="4.18" ry="3.8" fill="#c3c9cf"/><ellipse cx="238.86" cy="451.8" rx="3.61" ry="3.14" fill="#c3c9cf"/><ellipse cx="230.88" cy="452.28" rx="3.04" ry="2.85" fill="#c3c9cf"/><ellipse cx="229.36" cy="453.51" rx="2.66" ry="2.09" fill="#c3c9cf"/><ellipse cx="243.04" cy="453.7" rx="2.66" ry="2.09" fill="#c3c9cf"/><ellipse cx="233.16" cy="454.65" rx="3.04" ry="1.9" fill="#c3c9cf"/><ellipse cx="238.48" cy="454.84" rx="3.42" ry="1.71" fill="#c3c9cf"/><ellipse cx="236.2" cy="452.44" rx="8.36" ry="2.61" fill="#ffffff"/><ellipse cx="234.68" cy="450.32" rx="4.18" ry="3.27" fill="#ffffff"/><ellipse cx="238.86" cy="451.13" rx="3.61" ry="2.7" fill="#ffffff"/><ellipse cx="230.88" cy="451.54" rx="3.04" ry="2.45" fill="#ffffff"/><ellipse cx="229.36" cy="452.61" rx="2.66" ry="1.8" fill="#ffffff"/><ellipse cx="243.04" cy="452.77" rx="2.66" ry="1.8" fill="#ffffff"/><ellipse cx="233.16" cy="453.59" rx="3.04" ry="1.63" fill="#ffffff"/><ellipse cx="238.48" cy="453.75" rx="3.42" ry="1.47" fill="#ffffff"/></g><g><ellipse cx="263.3" cy="453.32" rx="12.67" ry="3.04" fill="#c3c9cf"/><ellipse cx="263.3" cy="450.85" rx="6.34" ry="3.8" fill="#c3c9cf"/><ellipse cx="269.64" cy="451.8" rx="5.47" ry="3.14" fill="#c3c9cf"/><ellipse cx="257.54" cy="452.28" rx="4.61" ry="2.85" fill="#c3c9cf"/><ellipse cx="252.93" cy="453.51" rx="4.03" ry="2.09" fill="#c3c9cf"/><ellipse cx="273.67" cy="453.7" rx="4.03" ry="2.09" fill="#c3c9cf"/><ellipse cx="258.69" cy="454.65" rx="4.61" ry="1.9" fill="#c3c9cf"/><ellipse cx="266.76" cy="454.84" rx="5.18" ry="1.71" fill="#c3c9cf"/><ellipse cx="263.3" cy="452.44" rx="12.67" ry="2.61" fill="#ffffff"/><ellipse cx="263.3" cy="450.32" rx="6.34" ry="3.27" fill="#ffffff"/><ellipse cx="269.64" cy="451.13" rx="5.47" ry="2.7" fill="#ffffff"/><ellipse cx="257.54" cy="451.54" rx="4.61" ry="2.45" fill="#ffffff"/><ellipse cx="252.93" cy="452.61" rx="4.03" ry="1.8" fill="#ffffff"/><ellipse cx="273.67" cy="452.77" rx="4.03" ry="1.8" fill="#ffffff"/><ellipse cx="258.69" cy="453.59" rx="4.61" ry="1.63" fill="#ffffff"/><ellipse cx="266.76" cy="453.75" rx="5.18" ry="1.47" fill="#ffffff"/></g><g opacity="0.8"><rect x="223.6" y="482.2" width="57" height="3.8" fill="#2b5c1e"/><rect x="223.6" y="482.2" width="57" height="2.36" fill="#4f9a36"/><rect x="223.6" y="482.5" width="57" height="1.06" fill="#74bb4e"/><path d="M223.6 484.03h1.44v0.84h-1.44zM225.75 484.06h1.21v0.84h-1.21zM228.47 483.35h0.88v0.84h-0.88zM230.12 483.58h1.54v0.84h-1.54zM232.55 482.94h1.38v0.84h-1.38zM235 482.47h1.8v0.84h-1.8zM236.69 483.83h1.2v0.84h-1.2zM239.67 483.13h1.77v0.84h-1.77zM242.37 483.06h0.87v0.84h-0.87zM245.09 483.15h1.31v0.84h-1.31zM247.69 484.1h1.39v0.84h-1.39zM251.02 483.78h1.17v0.84h-1.17zM253.58 482.96h1.83v0.84h-1.83zM256.19 483.07h0.84v0.84h-0.84zM258.27 483.16h1.83v0.84h-1.83zM260.82 483.92h1v0.84h-1zM263.64 482.28h1.35v0.84h-1.35zM267.03 483.72h1.58v0.84h-1.58zM269.9 483.47h0.9v0.84h-0.9zM272.67 483.68h1.11v0.84h-1.11zM275.55 482.27h1.06v0.84h-1.06zM278.12 484.13h1.01v0.84h-1.01z" fill="#a9dc86" opacity="0.55"/><path d="M224.3 483.43h1.31v0.95h-1.31zM226.63 484.38h1.61v0.95h-1.61zM229.52 483.44h1.67v0.95h-1.67zM232.39 484.64h1.11v0.95h-1.11zM235.39 483.33h1.27v0.95h-1.27zM238.59 484.53h1.59v0.95h-1.59zM242.38 484.71h1.28v0.95h-1.28zM244.53 483.49h1.47v0.95h-1.47zM247.34 483.55h1.26v0.95h-1.26zM249.62 484.42h1.18v0.95h-1.18zM252.43 484.8h1.76v0.95h-1.76zM255.37 483.71h1.28v0.95h-1.28zM259.31 483.22h1.61v0.95h-1.61zM261.63 483.64h0.85v0.95h-0.85zM264.93 483.92h1.33v0.95h-1.33zM268.36 484.92h1.37v0.95h-1.37zM270.95 483.7h1.22v0.95h-1.22zM274.43 484.59h1.51v0.95h-1.51zM276.78 484.6h1.18v0.95h-1.18z" fill="#1f4a16" opacity="0.6"/></g></g></g></g>
<g><rect x="593" y="179.5" width="124" height="81.5" rx="40.75" fill="#030303"/><g clip-path="url(#b3)"><g transform="translate(613 190) scale(1.15 1.25) translate(-290.1 -433.3)"><rect x="286.1" y="451.3" width="27" height="16" fill="#130a08"/><rect x="286.1" y="467.3" width="27" height="17" fill="#080d16"/><path d="M291 434.2L297.4 434.2M294.2 434.2L294.2 440.4M294.2 440.4L294.2 446.6" stroke="#f0f0f0" stroke-width="1.8" fill="none" stroke-linecap="square" /><path d="M300.8 434.2L300.8 440.4M300.8 440.4L300.8 446.6M300.8 446.6L307.2 446.6M307.2 440.4L307.2 446.6M307.2 434.2L307.2 440.4" stroke="#f0f0f0" stroke-width="1.8" fill="none" stroke-linecap="square" /><circle cx="308.6" cy="455.6" r="0.8" fill="none" stroke="#e06a54" stroke-width="0.7"/><path d="M301.52 455.43L306.07 455.43M306.07 455.43L306.07 459.95M306.07 459.95L306.07 464.48M301.52 464.48L306.07 464.48M301.52 459.95L301.52 464.48M301.52 455.43L301.52 459.95" stroke="#e06a54" stroke-width="1.65" fill="none" stroke-linecap="square" /><path d="M293.93 455.43L298.48 455.43M298.48 455.43L298.48 459.95M293.93 459.95L298.48 459.95M293.93 459.95L293.93 464.48M293.93 464.48L298.48 464.48" stroke="#e06a54" stroke-width="1.65" fill="none" stroke-linecap="square" /><circle cx="308.6" cy="472.7" r="0.8" fill="none" stroke="#b9d9ec" stroke-width="0.7"/><path d="M301.52 472.52L306.07 472.52M306.07 472.52L306.07 477.05M306.07 477.05L306.07 481.57M301.52 481.57L306.07 481.57M301.52 477.05L301.52 481.57M301.52 472.52L301.52 477.05" stroke="#b9d9ec" stroke-width="1.65" fill="none" stroke-linecap="square" /><path d="M298.48 472.52L298.48 481.57" stroke="#b9d9ec" stroke-width="1.65" stroke-linecap="square"/><g><ellipse cx="325.6" cy="453.47" rx="8.36" ry="2.94" fill="#c3c9cf"/><ellipse cx="324.08" cy="451.08" rx="4.18" ry="3.68" fill="#c3c9cf"/><ellipse cx="328.26" cy="452" rx="3.61" ry="3.04" fill="#c3c9cf"/><ellipse cx="320.28" cy="452.46" rx="3.04" ry="2.76" fill="#c3c9cf"/><ellipse cx="318.76" cy="453.66" rx="2.66" ry="2.02" fill="#c3c9cf"/><ellipse cx="332.44" cy="453.84" rx="2.66" ry="2.02" fill="#c3c9cf"/><ellipse cx="322.56" cy="454.76" rx="3.04" ry="1.84" fill="#c3c9cf"/><ellipse cx="327.88" cy="454.94" rx="3.42" ry="1.66" fill="#c3c9cf"/><ellipse cx="325.6" cy="452.62" rx="8.36" ry="2.53" fill="#ffffff"/><ellipse cx="324.08" cy="450.56" rx="4.18" ry="3.16" fill="#ffffff"/><ellipse cx="328.26" cy="451.36" rx="3.61" ry="2.61" fill="#ffffff"/><ellipse cx="320.28" cy="451.75" rx="3.04" ry="2.37" fill="#ffffff"/><ellipse cx="318.76" cy="452.78" rx="2.66" ry="1.74" fill="#ffffff"/><ellipse cx="332.44" cy="452.94" rx="2.66" ry="1.74" fill="#ffffff"/><ellipse cx="322.56" cy="453.73" rx="3.04" ry="1.58" fill="#ffffff"/><ellipse cx="327.88" cy="453.89" rx="3.42" ry="1.42" fill="#ffffff"/></g><g><ellipse cx="352.2" cy="453.47" rx="12.76" ry="2.94" fill="#c3c9cf"/><ellipse cx="352.2" cy="451.08" rx="6.38" ry="3.68" fill="#c3c9cf"/><ellipse cx="358.58" cy="452" rx="5.51" ry="3.04" fill="#c3c9cf"/><ellipse cx="346.4" cy="452.46" rx="4.64" ry="2.76" fill="#c3c9cf"/><ellipse cx="341.76" cy="453.66" rx="4.06" ry="2.02" fill="#c3c9cf"/><ellipse cx="362.64" cy="453.84" rx="4.06" ry="2.02" fill="#c3c9cf"/><ellipse cx="347.56" cy="454.76" rx="4.64" ry="1.84" fill="#c3c9cf"/><ellipse cx="355.68" cy="454.94" rx="5.22" ry="1.66" fill="#c3c9cf"/><ellipse cx="352.2" cy="452.62" rx="12.76" ry="2.53" fill="#ffffff"/><ellipse cx="352.2" cy="450.56" rx="6.38" ry="3.16" fill="#ffffff"/><ellipse cx="358.58" cy="451.36" rx="5.51" ry="2.61" fill="#ffffff"/><ellipse cx="346.4" cy="451.75" rx="4.64" ry="2.37" fill="#ffffff"/><ellipse cx="341.76" cy="452.78" rx="4.06" ry="1.74" fill="#ffffff"/><ellipse cx="362.64" cy="452.94" rx="4.06" ry="1.74" fill="#ffffff"/><ellipse cx="347.56" cy="453.73" rx="4.64" ry="1.58" fill="#ffffff"/><ellipse cx="355.68" cy="453.89" rx="5.22" ry="1.42" fill="#ffffff"/></g><path d="M320.5 459 Q325.6 460.2 330.7 459" stroke="#8e8e8e" stroke-width="1" fill="none" stroke-linecap="round"/><path d="M341.8 459 Q346.7 460.2 351.6 459" stroke="#8e8e8e" stroke-width="1" fill="none" stroke-linecap="round"/><path d="M320 467.5 Q323.5 468.7 327 467.5 Q330.5 466.3 334 467.5" stroke="#8e8e8e" stroke-width="1" fill="none" stroke-linecap="round"/><path d="M340 467.5 Q343 468.7 346 467.5 Q349 466.3 352 467.5" stroke="#8e8e8e" stroke-width="1" fill="none" stroke-linecap="round"/><path d="M316 474.9 Q319.5 476.1 323 474.9 Q326.5 473.7 330 474.9 Q333.5 476.1 337 474.9" stroke="#8e8e8e" stroke-width="1" fill="none" stroke-linecap="round"/><path d="M338.6 474.9 Q342.03 476.1 345.45 474.9 Q348.88 473.7 352.3 474.9 Q355.73 476.1 359.15 474.9 Q362.57 473.7 366 474.9" stroke="#8e8e8e" stroke-width="1" fill="none" stroke-linecap="round"/><g opacity="0.8"><rect x="312.9" y="482.7" width="55.8" height="3.8" fill="#2b5c1e"/><rect x="312.9" y="482.7" width="55.8" height="2.36" fill="#4f9a36"/><rect x="312.9" y="483" width="55.8" height="1.06" fill="#74bb4e"/><path d="M312.9 484.15h1.66v0.84h-1.66zM315.61 484.35h1.98v0.84h-1.98zM318.53 483.73h0.97v0.84h-0.97zM321.46 483.62h1.39v0.84h-1.39zM323.5 483.26h1.23v0.84h-1.23zM325.48 482.89h1.36v0.84h-1.36zM327.25 483.1h1.92v0.84h-1.92zM329.35 482.94h1.02v0.84h-1.02zM331.47 482.96h1.91v0.84h-1.91zM334.44 484h1.99v0.84h-1.99zM336.65 484h1.7v0.84h-1.7zM339.3 483.54h1.97v0.84h-1.97zM342.01 482.74h1.1v0.84h-1.1zM344.4 484.14h1.41v0.84h-1.41zM347.71 482.7h1.24v0.84h-1.24zM349.66 483.22h1.69v0.84h-1.69zM352.81 484.05h1.51v0.84h-1.51zM355.8 484.1h1.51v0.84h-1.51zM357.79 483.23h1.21v0.84h-1.21zM360.67 482.94h0.89v0.84h-0.89zM363.62 483.01h0.87v0.84h-0.87zM365.4 483.61h1.14v0.84h-1.14zM367.28 484.31h1.33v0.84h-1.33z" fill="#a9dc86" opacity="0.55"/><path d="M313.6 484.1h1.24v0.95h-1.24zM315.74 485.24h1.39v0.95h-1.39zM319.45 484.56h0.93v0.95h-0.93zM322.12 485.52h1.38v0.95h-1.38zM324.68 484.57h1.34v0.95h-1.34zM326.93 483.79h1.24v0.95h-1.24zM330.3 483.75h1.63v0.95h-1.63zM334.26 483.98h1.37v0.95h-1.37zM336.75 484.1h1.62v0.95h-1.62zM339.83 485.27h1.8v0.95h-1.8zM341.89 484.34h0.96v0.95h-0.96zM343.9 484.4h1.01v0.95h-1.01zM347.74 484.02h1.33v0.95h-1.33zM349.82 484.35h1.46v0.95h-1.46zM353.31 485.04h1.78v0.95h-1.78zM356.93 484.53h1.25v0.95h-1.25zM359.88 484.89h1.07v0.95h-1.07zM362.88 485.16h0.98v0.95h-0.98zM366.3 484.52h1.23v0.95h-1.23z" fill="#1f4a16" opacity="0.6"/></g></g></g></g>
<g><rect x="613" y="503.5" width="125" height="82" rx="41" fill="#030303"/><g clip-path="url(#b4)"><g transform="translate(629.6 515.6) scale(1.16 1.24) translate(-377 -434.2)"><rect x="373" y="452.2" width="27" height="16" fill="#130a08"/><rect x="373" y="468.2" width="27" height="17" fill="#080d16"/><path d="M377.9 435.1L377.9 441.3M377.9 441.3L377.9 447.5M386.3 435.1L386.3 441.3M386.3 441.3L386.3 447.5M377.9 447.5L382.1 441.3M386.3 447.5L382.1 441.3" stroke="#f0f0f0" stroke-width="1.8" fill="none" stroke-linecap="square" /><path d="M389.7 435.1L396.1 435.1M389.7 435.1L389.7 441.3M389.7 441.3L389.7 447.5M389.7 447.5L396.1 447.5M389.7 441.3L392.9 441.3" stroke="#f0f0f0" stroke-width="1.8" fill="none" stroke-linecap="square" /><circle cx="396.3" cy="456.2" r="0.8" fill="none" stroke="#e06a54" stroke-width="0.7"/><path d="M389.22 456.02L393.77 456.02M393.77 456.02L393.77 460.55M393.77 460.55L393.77 465.07M389.22 465.07L393.77 465.07M389.22 460.55L389.22 465.07M389.22 456.02L389.22 460.55" stroke="#e06a54" stroke-width="1.65" fill="none" stroke-linecap="square" /><path d="M386.18 456.02L386.18 465.07" stroke="#e06a54" stroke-width="1.65" stroke-linecap="square"/><circle cx="396.3" cy="472.7" r="0.8" fill="none" stroke="#b9d9ec" stroke-width="0.7"/><path d="M389.22 472.52L393.77 472.52M393.77 472.52L393.77 477.05M389.22 477.05L393.77 477.05M393.77 477.05L393.77 481.57M389.22 481.57L393.77 481.57" stroke="#b9d9ec" stroke-width="1.65" fill="none" stroke-linecap="square" /><g><ellipse cx="414.5" cy="454.26" rx="8.18" ry="2.91" fill="#c3c9cf"/><ellipse cx="413.01" cy="451.89" rx="4.09" ry="3.64" fill="#c3c9cf"/><ellipse cx="417.1" cy="452.8" rx="3.53" ry="3" fill="#c3c9cf"/><ellipse cx="409.29" cy="453.25" rx="2.98" ry="2.73" fill="#c3c9cf"/><ellipse cx="407.8" cy="454.44" rx="2.6" ry="2" fill="#c3c9cf"/><ellipse cx="421.2" cy="454.62" rx="2.6" ry="2" fill="#c3c9cf"/><ellipse cx="411.52" cy="455.53" rx="2.98" ry="1.82" fill="#c3c9cf"/><ellipse cx="416.73" cy="455.71" rx="3.35" ry="1.64" fill="#c3c9cf"/><ellipse cx="414.5" cy="453.42" rx="8.18" ry="2.5" fill="#ffffff"/><ellipse cx="413.01" cy="451.38" rx="4.09" ry="3.13" fill="#ffffff"/><ellipse cx="417.1" cy="452.16" rx="3.53" ry="2.58" fill="#ffffff"/><ellipse cx="409.29" cy="452.55" rx="2.98" ry="2.35" fill="#ffffff"/><ellipse cx="407.8" cy="453.57" rx="2.6" ry="1.72" fill="#ffffff"/><ellipse cx="421.2" cy="453.73" rx="2.6" ry="1.72" fill="#ffffff"/><ellipse cx="411.52" cy="454.51" rx="2.98" ry="1.57" fill="#ffffff"/><ellipse cx="416.73" cy="454.67" rx="3.35" ry="1.41" fill="#ffffff"/></g><g><ellipse cx="440.7" cy="454.26" rx="12.63" ry="2.91" fill="#c3c9cf"/><ellipse cx="440.7" cy="451.89" rx="6.31" ry="3.64" fill="#c3c9cf"/><ellipse cx="447.01" cy="452.8" rx="5.45" ry="3" fill="#c3c9cf"/><ellipse cx="434.96" cy="453.25" rx="4.59" ry="2.73" fill="#c3c9cf"/><ellipse cx="430.37" cy="454.44" rx="4.02" ry="2" fill="#c3c9cf"/><ellipse cx="451.03" cy="454.62" rx="4.02" ry="2" fill="#c3c9cf"/><ellipse cx="436.11" cy="455.53" rx="4.59" ry="1.82" fill="#c3c9cf"/><ellipse cx="444.14" cy="455.71" rx="5.17" ry="1.64" fill="#c3c9cf"/><ellipse cx="440.7" cy="453.42" rx="12.63" ry="2.5" fill="#ffffff"/><ellipse cx="440.7" cy="451.38" rx="6.31" ry="3.13" fill="#ffffff"/><ellipse cx="447.01" cy="452.16" rx="5.45" ry="2.58" fill="#ffffff"/><ellipse cx="434.96" cy="452.55" rx="4.59" ry="2.35" fill="#ffffff"/><ellipse cx="430.37" cy="453.57" rx="4.02" ry="1.72" fill="#ffffff"/><ellipse cx="451.03" cy="453.73" rx="4.02" ry="1.72" fill="#ffffff"/><ellipse cx="436.11" cy="454.51" rx="4.59" ry="1.57" fill="#ffffff"/><ellipse cx="444.14" cy="454.67" rx="5.17" ry="1.41" fill="#ffffff"/></g><path d="M422 458L424.6 465.8" stroke="#d6c86e" stroke-width="1.3" stroke-linecap="round"/><path d="M445.6 458.6L444.6 465.8" stroke="#d6c86e" stroke-width="1.3" stroke-linecap="round"/><circle cx="406.7" cy="463.7" r="1" fill="#dedede"/><circle cx="420" cy="463.7" r="1" fill="#dedede"/><circle cx="428.5" cy="463.7" r="1" fill="#dedede"/><circle cx="441" cy="463.7" r="1" fill="#dedede"/><circle cx="453.6" cy="463.7" r="1" fill="#dedede"/><circle cx="407.4" cy="471.7" r="1" fill="#dedede"/><circle cx="420.7" cy="471.7" r="1" fill="#dedede"/><circle cx="429.2" cy="471.7" r="1" fill="#dedede"/><circle cx="441.7" cy="471.7" r="1" fill="#dedede"/><circle cx="454.3" cy="471.7" r="1" fill="#dedede"/><circle cx="408.1" cy="479.3" r="1" fill="#dedede"/><circle cx="421.4" cy="479.3" r="1" fill="#dedede"/><circle cx="429.9" cy="479.3" r="1" fill="#dedede"/><circle cx="442.4" cy="479.3" r="1" fill="#dedede"/><circle cx="455" cy="479.3" r="1" fill="#dedede"/><g opacity="0.8"><rect x="402" y="482.7" width="55.4" height="3.8" fill="#2b5c1e"/><rect x="402" y="482.7" width="55.4" height="2.36" fill="#4f9a36"/><rect x="402" y="483" width="55.4" height="1.06" fill="#74bb4e"/><path d="M402 482.78h1.75v0.84h-1.75zM405.32 483.23h0.94v0.84h-0.94zM407.29 483.18h1.54v0.84h-1.54zM410.31 484.72h0.83v0.84h-0.83zM412.23 483.39h1.15v0.84h-1.15zM415.18 483.01h1.94v0.84h-1.94zM418.05 483.78h1.63v0.84h-1.63zM419.89 484.16h1.51v0.84h-1.51zM422.21 483.24h1.93v0.84h-1.93zM425.31 483.83h1.08v0.84h-1.08zM427.68 483.59h0.87v0.84h-0.87zM430.31 482.87h1.38v0.84h-1.38zM433.44 483.55h0.99v0.84h-0.99zM435.15 483.53h1.54v0.84h-1.54zM437.32 484.76h1.78v0.84h-1.78zM439.72 484.19h1.79v0.84h-1.79zM441.5 483.63h1.02v0.84h-1.02zM444.41 484.73h0.87v0.84h-0.87zM447.4 483.2h1.42v0.84h-1.42zM450.75 483.64h1.51v0.84h-1.51zM453.6 484.52h0.95v0.84h-0.95zM455.27 482.81h1.5v0.84h-1.5z" fill="#a9dc86" opacity="0.55"/><path d="M402.7 484h1.23v0.95h-1.23zM406.19 484.15h0.95v0.95h-0.95zM409.46 484.63h0.89v0.95h-0.89zM413.12 483.98h1.53v0.95h-1.53zM415.37 485.5h1.21v0.95h-1.21zM419.15 485.47h1.3v0.95h-1.3zM421.61 483.74h1.61v0.95h-1.61zM425.35 484.99h0.87v0.95h-0.87zM428.94 485.25h1.45v0.95h-1.45zM431.8 485.24h1.4v0.95h-1.4zM434.73 484.61h0.97v0.95h-0.97zM438.1 484.14h0.88v0.95h-0.88zM440.37 484.39h1.64v0.95h-1.64zM442.47 483.9h1.49v0.95h-1.49zM445.6 485.48h1.18v0.95h-1.18zM448.31 483.72h1.17v0.95h-1.17zM451.68 485.08h1.56v0.95h-1.56zM455.51 485.09h1.23v0.95h-1.23z" fill="#1f4a16" opacity="0.6"/></g></g></g></g>
<g><rect x="314" y="632" width="124" height="81.5" rx="40.75" fill="#030303"/><g clip-path="url(#b5)"><g transform="translate(331 643.6) scale(1.17 1.23) translate(-467.1 -434.3)"><rect x="463.1" y="452.3" width="27" height="16" fill="#130a08"/><rect x="463.1" y="468.3" width="27" height="17" fill="#080d16"/><path d="M468 435.2L474.4 435.2M471.2 435.2L471.2 441.4M471.2 441.4L471.2 447.6" stroke="#f0f0f0" stroke-width="1.8" fill="none" stroke-linecap="square" /><path d="M477.8 435.2L477.8 441.4M477.8 441.4L477.8 447.6M484.2 435.2L484.2 441.4M484.2 441.4L484.2 447.6M477.8 441.4L484.2 441.4" stroke="#f0f0f0" stroke-width="1.8" fill="none" stroke-linecap="square" /><circle cx="486.1" cy="456.6" r="0.8" fill="none" stroke="#e06a54" stroke-width="0.7"/><path d="M479.02 456.43L483.57 456.43M483.57 456.43L483.57 460.95M479.02 460.95L483.57 460.95M479.02 460.95L479.02 465.48M479.02 465.48L483.57 465.48" stroke="#e06a54" stroke-width="1.65" fill="none" stroke-linecap="square" /><line x1="473.4" y1="460.95" x2="476.8" y2="460.95" stroke="#e06a54" stroke-width="1.65"/><circle cx="486.1" cy="473" r="0.8" fill="none" stroke="#b9d9ec" stroke-width="0.7"/><path d="M479.02 472.82L483.57 472.82M483.57 472.82L483.57 477.35M479.02 472.82L479.02 477.35M479.02 477.35L483.57 477.35M483.57 477.35L483.57 481.88M479.02 481.88L483.57 481.88" stroke="#b9d9ec" stroke-width="1.65" fill="none" stroke-linecap="square" /><path d="M475.98 472.82L475.98 481.88" stroke="#b9d9ec" stroke-width="1.65" stroke-linecap="square"/><line x1="466.35" y1="477.35" x2="469.75" y2="477.35" stroke="#b9d9ec" stroke-width="1.65"/><g><ellipse cx="502.8" cy="454.44" rx="8.23" ry="2.88" fill="#c3c9cf"/><ellipse cx="501.3" cy="452.1" rx="4.11" ry="3.6" fill="#c3c9cf"/><ellipse cx="505.42" cy="453" rx="3.55" ry="2.97" fill="#c3c9cf"/><ellipse cx="497.56" cy="453.45" rx="2.99" ry="2.7" fill="#c3c9cf"/><ellipse cx="496.07" cy="454.62" rx="2.62" ry="1.98" fill="#c3c9cf"/><ellipse cx="509.53" cy="454.8" rx="2.62" ry="1.98" fill="#c3c9cf"/><ellipse cx="499.81" cy="455.7" rx="2.99" ry="1.8" fill="#c3c9cf"/><ellipse cx="505.04" cy="455.88" rx="3.37" ry="1.62" fill="#c3c9cf"/><ellipse cx="502.8" cy="453.61" rx="8.23" ry="2.48" fill="#ffffff"/><ellipse cx="501.3" cy="451.6" rx="4.11" ry="3.1" fill="#ffffff"/><ellipse cx="505.42" cy="452.37" rx="3.55" ry="2.55" fill="#ffffff"/><ellipse cx="497.56" cy="452.76" rx="2.99" ry="2.32" fill="#ffffff"/><ellipse cx="496.07" cy="453.76" rx="2.62" ry="1.7" fill="#ffffff"/><ellipse cx="509.53" cy="453.92" rx="2.62" ry="1.7" fill="#ffffff"/><ellipse cx="499.81" cy="454.69" rx="2.99" ry="1.55" fill="#ffffff"/><ellipse cx="505.04" cy="454.85" rx="3.37" ry="1.39" fill="#ffffff"/></g><g><ellipse cx="528.9" cy="454.44" rx="12.5" ry="2.88" fill="#c3c9cf"/><ellipse cx="528.9" cy="452.1" rx="6.25" ry="3.6" fill="#c3c9cf"/><ellipse cx="535.15" cy="453" rx="5.4" ry="2.97" fill="#c3c9cf"/><ellipse cx="523.22" cy="453.45" rx="4.54" ry="2.7" fill="#c3c9cf"/><ellipse cx="518.68" cy="454.62" rx="3.98" ry="1.98" fill="#c3c9cf"/><ellipse cx="539.12" cy="454.8" rx="3.98" ry="1.98" fill="#c3c9cf"/><ellipse cx="524.36" cy="455.7" rx="4.54" ry="1.8" fill="#c3c9cf"/><ellipse cx="532.31" cy="455.88" rx="5.11" ry="1.62" fill="#c3c9cf"/><ellipse cx="528.9" cy="453.61" rx="12.5" ry="2.48" fill="#ffffff"/><ellipse cx="528.9" cy="451.6" rx="6.25" ry="3.1" fill="#ffffff"/><ellipse cx="535.15" cy="452.37" rx="5.4" ry="2.55" fill="#ffffff"/><ellipse cx="523.22" cy="452.76" rx="4.54" ry="2.32" fill="#ffffff"/><ellipse cx="518.68" cy="453.76" rx="3.98" ry="1.7" fill="#ffffff"/><ellipse cx="539.12" cy="453.92" rx="3.98" ry="1.7" fill="#ffffff"/><ellipse cx="524.36" cy="454.69" rx="4.54" ry="1.55" fill="#ffffff"/><ellipse cx="532.31" cy="454.85" rx="5.11" ry="1.39" fill="#ffffff"/></g><circle cx="504.2" cy="464.1" r="1.3" fill="#d2caca"/><circle cx="502.3" cy="472.1" r="1.3" fill="#d2caca"/><circle cx="500.8" cy="479.6" r="1.3" fill="#d2caca"/><circle cx="525.1" cy="463.2" r="1.3" fill="#d2caca"/><circle cx="537.8" cy="461.8" r="1.3" fill="#d2caca"/><circle cx="523.9" cy="471.4" r="1.3" fill="#d2caca"/><circle cx="536.3" cy="471.4" r="1.3" fill="#d2caca"/><circle cx="522.6" cy="478.7" r="1.3" fill="#d2caca"/><circle cx="534.6" cy="479" r="1.3" fill="#d2caca"/><g opacity="0.8"><rect x="490.7" y="483.5" width="55.3" height="3.4" fill="#2b5c1e"/><rect x="490.7" y="483.5" width="55.3" height="2.11" fill="#4f9a36"/><rect x="490.7" y="483.77" width="55.3" height="0.95" fill="#74bb4e"/><path d="M490.7 484.59h1.64v0.75h-1.64zM492.86 484.43h1.05v0.75h-1.05zM495.44 485.26h1.54v0.75h-1.54zM498.15 484.88h1.17v0.75h-1.17zM500.29 484.02h1.71v0.75h-1.71zM502.23 484.1h1.44v0.75h-1.44zM505.51 484.39h1.66v0.75h-1.66zM507.27 484.68h1.66v0.75h-1.66zM510.01 483.75h1.41v0.75h-1.41zM512.21 484.94h0.9v0.75h-0.9zM515.24 484.05h0.99v0.75h-0.99zM518.61 484.66h1.05v0.75h-1.05zM520.22 484.6h1.58v0.75h-1.58zM523.58 483.91h1.31v0.75h-1.31zM526.25 485.24h1.16v0.75h-1.16zM528.2 484.88h1.19v0.75h-1.19zM530.17 483.96h1.98v0.75h-1.98zM532.06 485.06h1.87v0.75h-1.87zM534.7 483.69h1.34v0.75h-1.34zM537.55 485.11h1.7v0.75h-1.7zM540.2 484.53h1.27v0.75h-1.27zM542.45 485.22h1.6v0.75h-1.6zM544.88 484.28h0.94v0.75h-0.94z" fill="#a9dc86" opacity="0.55"/><path d="M491.4 486.05h1.79v0.85h-1.79zM493.62 484.64h1.72v0.85h-1.72zM497.18 485.85h1.45v0.85h-1.45zM500.29 484.43h1.68v0.85h-1.68zM503.82 484.87h1.24v0.85h-1.24zM506.38 484.55h1.08v0.85h-1.08zM509.62 484.79h0.88v0.85h-0.88zM512.43 485.1h1.25v0.85h-1.25zM514.94 484.77h0.81v0.85h-0.81zM517.67 485.16h1.31v0.85h-1.31zM521.37 484.43h0.92v0.85h-0.92zM525.2 485.24h1.16v0.85h-1.16zM528.55 486.02h1.3v0.85h-1.3zM531.79 485.27h1.17v0.85h-1.17zM534.9 486h1.66v0.85h-1.66zM538.08 485.82h1.59v0.85h-1.59zM540.29 484.58h1.39v0.85h-1.39zM542.31 485.67h1.11v0.85h-1.11zM544.62 485.03h1.4v0.85h-1.4z" fill="#1f4a16" opacity="0.6"/></g></g></g></g>
<g><rect x="21.5" y="499.5" width="125.5" height="82" rx="41" fill="#030303"/><g clip-path="url(#b6)"><rect x="20" y="498" width="130" height="85" fill="#090d07"/><path d="M35.1 497.7L40.9 497.7M40.9 497.7L40.9 505.8M40.9 505.8L40.9 513.9M35.1 513.9L40.9 513.9M35.1 505.8L35.1 513.9M35.1 497.7L35.1 505.8" stroke="#3ba4ea" stroke-width="2.2" fill="none" stroke-linecap="square" /><path d="M44.7 497.7L50.5 497.7M50.5 497.7L50.5 505.8M50.5 505.8L50.5 513.9M44.7 513.9L50.5 513.9M44.7 505.8L44.7 513.9M44.7 497.7L44.7 505.8" stroke="#3ba4ea" stroke-width="2.2" fill="none" stroke-linecap="square" /><path d="M54.3 497.7L60.1 497.7M60.1 497.7L60.1 505.8M54.3 497.7L54.3 505.8M54.3 505.8L60.1 505.8M60.1 505.8L60.1 513.9M54.3 513.9L60.1 513.9" stroke="#3ba4ea" stroke-width="2.2" fill="none" stroke-linecap="square" /><text x="63.6" y="503.8" font-family="'Liberation Sans',sans-serif" font-size="4" fill="#3ba4ea">hPa</text><text x="27.8" y="541" font-family="'Liberation Sans',sans-serif" font-weight="bold" font-size="5.9" fill="#a9d62c" textLength="34.5">WIND SPEED</text><path d="M46.4 544.33 L46.4 557.73 L44.2 559.27 L42 557.07 L42 548.29ZM46.4 575.27 L46.4 561.87 L44.2 560.33 L42 562.53 L42 571.31Z" fill="#86e02e"/><path d="M49.04 543.8 L62.56 543.8 L58.56 547.8 L53.04 547.8ZM63.2 544.44 L59.2 548.44 L59.2 557.16 L61.2 559.16 L63.2 557.16ZM48.4 544.44 L52.4 548.44 L52.4 557.16 L50.4 559.16 L48.4 557.16ZM51.04 559.8 L53.04 557.8 L58.56 557.8 L60.56 559.8 L58.56 561.8 L53.04 561.8ZM63.2 575.16 L59.2 571.16 L59.2 562.44 L61.2 560.44 L63.2 562.44ZM49.04 575.8 L62.56 575.8 L58.56 571.8 L53.04 571.8Z" fill="#86e02e" /><text x="64.4" y="576.4" font-family="'Liberation Sans',sans-serif" font-size="3.8" fill="#86e02e">km/h</text><g><circle cx="110" cy="542" r="41" fill="#0a0c08"/><circle cx="110" cy="542" r="40.4" fill="none" stroke="#b9b9b9" stroke-width="1.51"/><circle cx="110" cy="542" r="35.21" fill="none" stroke="#c4c4c4" stroke-width="1.39"/><circle cx="110" cy="542" r="32.08" fill="none" stroke="#b0b0b0" stroke-width="1.21"/><line x1="138.52" y1="553.81" x2="134.96" y2="552.34" stroke="#d8d8d8" stroke-width="1.15"/><line x1="131.83" y1="563.83" x2="129.1" y2="561.1" stroke="#d8d8d8" stroke-width="1.15"/><line x1="121.81" y1="570.52" x2="120.34" y2="566.96" stroke="#d8d8d8" stroke-width="1.15"/><line x1="98.19" y1="570.52" x2="99.66" y2="566.96" stroke="#d8d8d8" stroke-width="1.15"/><line x1="88.17" y1="563.83" x2="90.9" y2="561.1" stroke="#d8d8d8" stroke-width="1.15"/><line x1="81.48" y1="553.81" x2="85.04" y2="552.34" stroke="#d8d8d8" stroke-width="1.15"/><line x1="81.48" y1="530.19" x2="85.04" y2="531.66" stroke="#d8d8d8" stroke-width="1.15"/><line x1="88.17" y1="520.17" x2="90.9" y2="522.9" stroke="#d8d8d8" stroke-width="1.15"/><line x1="98.19" y1="513.48" x2="99.66" y2="517.04" stroke="#d8d8d8" stroke-width="1.15"/><line x1="121.81" y1="513.48" x2="120.34" y2="517.04" stroke="#d8d8d8" stroke-width="1.15"/><line x1="131.83" y1="520.17" x2="129.1" y2="522.9" stroke="#d8d8d8" stroke-width="1.15"/><line x1="138.52" y1="530.19" x2="134.96" y2="531.66" stroke="#d8d8d8" stroke-width="1.15"/><rect x="106.38" y="506.31" width="7.24" height="7.24" rx="1.69" fill="#1b2414" stroke="#86a04e" stroke-width="1.21"/><text x="110" y="511.79" text-anchor="middle" font-family="'Liberation Sans',sans-serif" font-weight="bold" font-size="5.19" fill="#b3dc4a">N</text><rect x="139.42" y="538.38" width="7.24" height="7.24" rx="1.69" fill="#1b2414" stroke="#86a04e" stroke-width="1.21"/><text x="143.04" y="543.87" text-anchor="middle" font-family="'Liberation Sans',sans-serif" font-weight="bold" font-size="5.19" fill="#b3dc4a">E</text><rect x="106.38" y="570.46" width="7.24" height="7.24" rx="1.69" fill="#1b2414" stroke="#86a04e" stroke-width="1.21"/><text x="110" y="575.95" text-anchor="middle" font-family="'Liberation Sans',sans-serif" font-weight="bold" font-size="5.19" fill="#b3dc4a">S</text><rect x="73.34" y="538.38" width="7.24" height="7.24" rx="1.69" fill="#1b2414" stroke="#86a04e" stroke-width="1.21"/><text x="76.96" y="543.87" text-anchor="middle" font-family="'Liberation Sans',sans-serif" font-weight="bold" font-size="5.19" fill="#b3dc4a">W</text><circle cx="110" cy="542" r="11.7" fill="#161616" stroke="#a9a9a9" stroke-width="1.09"/><line x1="116.51" y1="542" x2="120.61" y2="542" stroke="#b4b4b4" stroke-width="1.15"/><line x1="116.12" y1="544.23" x2="119.97" y2="545.63" stroke="#b4b4b4" stroke-width="1.15"/><line x1="114.99" y1="546.19" x2="118.13" y2="548.82" stroke="#b4b4b4" stroke-width="1.15"/><line x1="113.26" y1="547.64" x2="115.31" y2="551.19" stroke="#b4b4b4" stroke-width="1.15"/><line x1="111.13" y1="548.41" x2="111.84" y2="552.45" stroke="#b4b4b4" stroke-width="1.15"/><line x1="108.87" y1="548.41" x2="108.16" y2="552.45" stroke="#b4b4b4" stroke-width="1.15"/><line x1="106.74" y1="547.64" x2="104.69" y2="551.19" stroke="#b4b4b4" stroke-width="1.15"/><line x1="105.01" y1="546.19" x2="101.87" y2="548.82" stroke="#b4b4b4" stroke-width="1.15"/><line x1="103.88" y1="544.23" x2="100.03" y2="545.63" stroke="#b4b4b4" stroke-width="1.15"/><line x1="103.49" y1="542" x2="99.39" y2="542" stroke="#b4b4b4" stroke-width="1.15"/><line x1="103.88" y1="539.77" x2="100.03" y2="538.37" stroke="#b4b4b4" stroke-width="1.15"/><line x1="105.01" y1="537.81" x2="101.87" y2="535.18" stroke="#b4b4b4" stroke-width="1.15"/><line x1="106.74" y1="536.36" x2="104.69" y2="532.81" stroke="#b4b4b4" stroke-width="1.15"/><line x1="108.87" y1="535.59" x2="108.16" y2="531.55" stroke="#b4b4b4" stroke-width="1.15"/><line x1="111.13" y1="535.59" x2="111.84" y2="531.55" stroke="#b4b4b4" stroke-width="1.15"/><line x1="113.26" y1="536.36" x2="115.31" y2="532.81" stroke="#b4b4b4" stroke-width="1.15"/><line x1="114.99" y1="537.81" x2="118.13" y2="535.18" stroke="#b4b4b4" stroke-width="1.15"/><line x1="116.12" y1="539.77" x2="119.97" y2="538.37" stroke="#b4b4b4" stroke-width="1.15"/><circle cx="110" cy="542" r="4.46" fill="#0c0c0c" stroke="#e0e0e0" stroke-width="1.69"/><circle cx="110" cy="542" r="1.93" fill="#222"/><path d="M97.82 537.18 L84.8 527.17 L87.21 532.59 L82.02 535.97Z" fill="#93dc2e"/></g></g></g>
</g>
</svg>
</body></html>
